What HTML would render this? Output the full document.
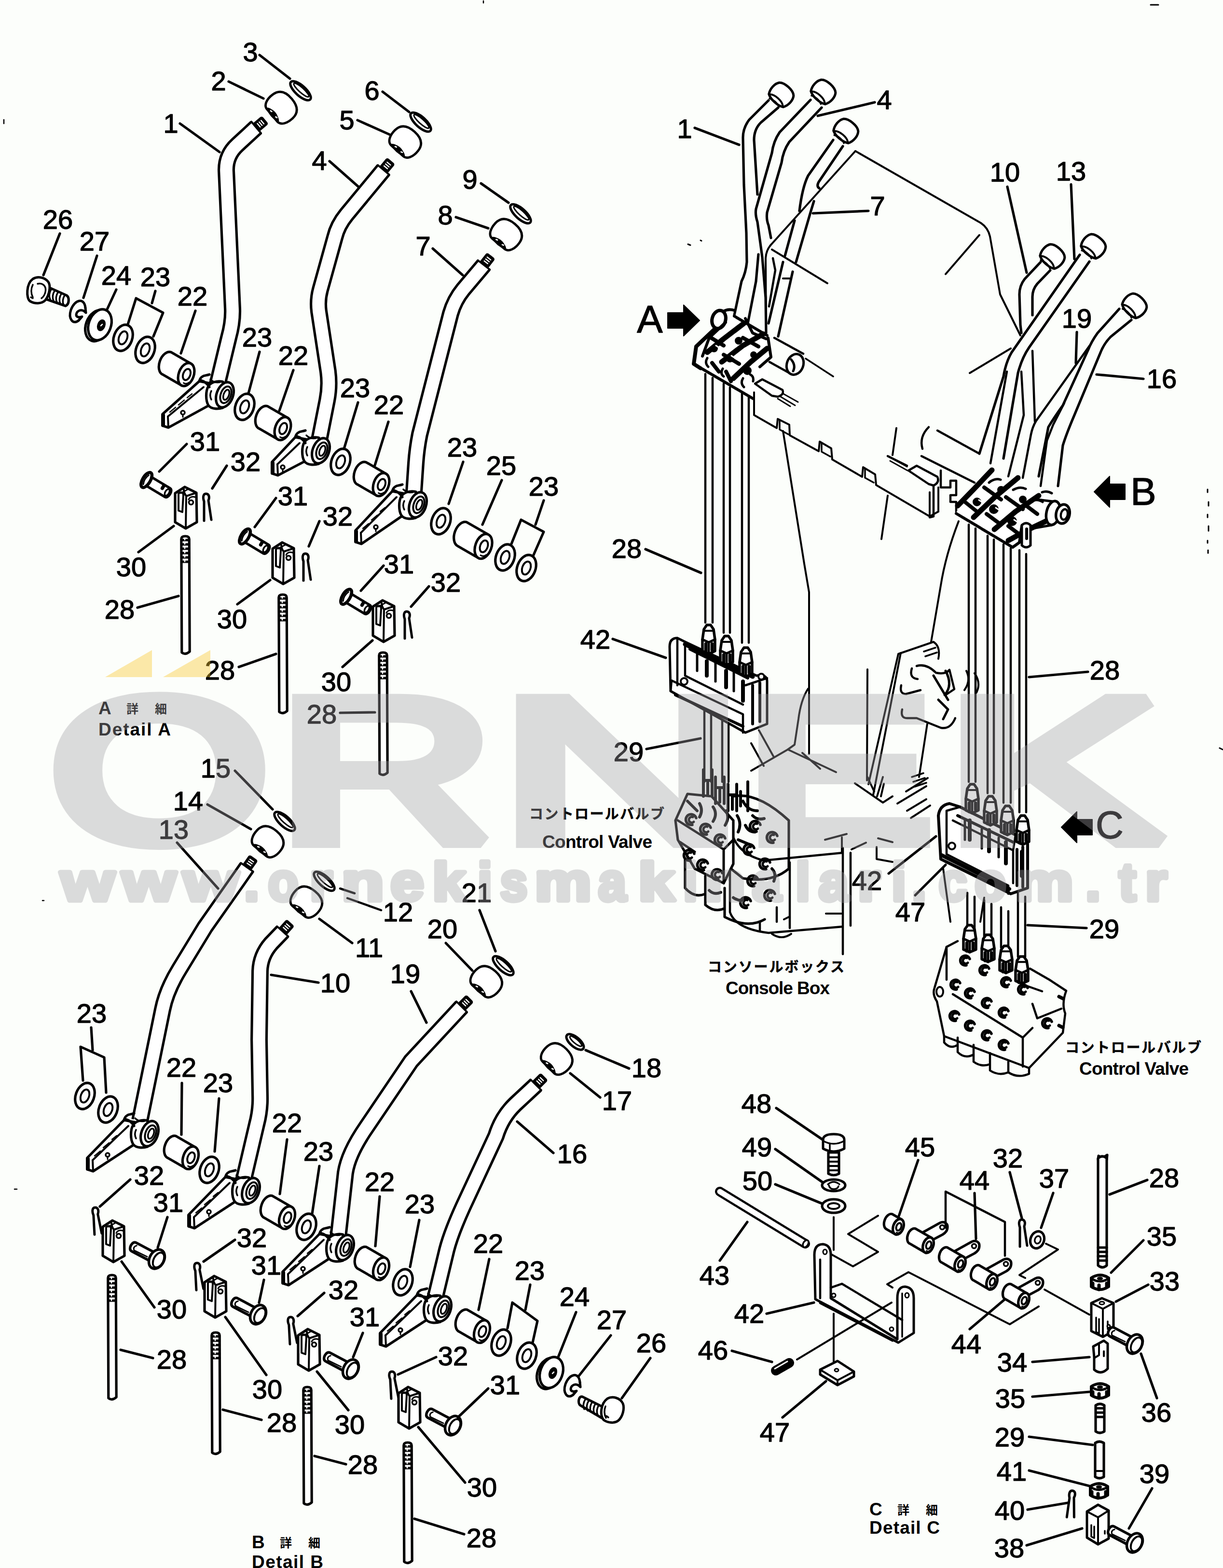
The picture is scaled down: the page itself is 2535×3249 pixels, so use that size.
<!DOCTYPE html>
<html><head><meta charset="utf-8"><title>ÖRNEK - www.ornekismakinalari.com.tr - Control Valve / Console Box levers</title>
<style>html,body{margin:0;padding:0;background:#fcfefb}svg{display:block}</style></head>
<body>
<svg width="2535" height="3249" viewBox="0 0 2535 3249">
<rect width="2535" height="3249" fill="#fcfefb"/>
<g fill="none" stroke="#000" stroke-width="5.2" stroke-linecap="round" stroke-linejoin="round">
<path d="M531 264L492 300Q468 322 469 354L482 640Q483 668 474 700L449 804" stroke-width="36" stroke-linecap="butt"/>
<path d="M531 264L492 300Q468 322 469 354L482 640Q483 668 474 700L449 804" stroke="#fff" stroke-width="25.6" stroke-linecap="butt"/>
<g transform="translate(531 264) rotate(-40)"><rect x="0" y="-9.5" width="23" height="19" rx="3" fill="#000" stroke-width="3"/><path d="M0 -15.5V15.5" stroke-width="4"/><path d="M7 -4.5V4.5M12 -4.5V4.5M17 -4.5V4.5" stroke="#fff" stroke-width="2.5"/></g>
<g transform="translate(583 223) rotate(-40) scale(0.92)"><path d="M-27 -18C-27 -30 -12 -36 4 -35C22 -34 31 -22 31 0C31 22 22 34 4 35C-12 36 -27 30 -27 18Z" fill="#fff"/><path d="M-27 -20C-17 -16 -17 16 -27 20" stroke-width="3.5"/><path d="M-26 -15C-16 -10 -16 10 -26 15C-30 6 -30 -6 -26 -15Z" fill="#000" stroke-width="3"/><path d="M-23 -10l1 3M-23 8l1 3" stroke="#fff" stroke-width="3"/></g>
<ellipse cx="623" cy="188" rx="27" ry="10.5" transform="rotate(42 623 188)" fill="#fff" stroke-width="5"/>
<ellipse cx="624.5" cy="186.5" rx="20.5" ry="5" transform="rotate(42 624.5 186.5)" stroke-width="3"/>
<path d="M538 114L601 163"/>
<path d="M474 169L546 204"/>
<path d="M373 256L455 315"/>
<path d="M795 352L718 445Q700 467 694 492L664 600Q658 622 661 645L680 770Q684 800 678 830L661 916" stroke-width="36" stroke-linecap="butt"/>
<path d="M795 352L718 445Q700 467 694 492L664 600Q658 622 661 645L680 770Q684 800 678 830L661 916" stroke="#fff" stroke-width="25.6" stroke-linecap="butt"/>
<g transform="translate(795 352) rotate(-50)"><rect x="0" y="-9.5" width="23" height="19" rx="3" fill="#000" stroke-width="3"/><path d="M0 -15.5V15.5" stroke-width="4"/><path d="M7 -4.5V4.5M12 -4.5V4.5M17 -4.5V4.5" stroke="#fff" stroke-width="2.5"/></g>
<g transform="translate(840 294) rotate(-48) scale(0.92)"><path d="M-27 -18C-27 -30 -12 -36 4 -35C22 -34 31 -22 31 0C31 22 22 34 4 35C-12 36 -27 30 -27 18Z" fill="#fff"/><path d="M-27 -20C-17 -16 -17 16 -27 20" stroke-width="3.5"/><path d="M-26 -15C-16 -10 -16 10 -26 15C-30 6 -30 -6 -26 -15Z" fill="#000" stroke-width="3"/><path d="M-23 -10l1 3M-23 8l1 3" stroke="#fff" stroke-width="3"/></g>
<ellipse cx="872" cy="253" rx="27" ry="10.5" transform="rotate(42 872 253)" fill="#fff" stroke-width="5"/>
<ellipse cx="873.5" cy="251.5" rx="20.5" ry="5" transform="rotate(42 873.5 251.5)" stroke-width="3"/>
<path d="M793 190L848 232"/>
<path d="M741 249L808 279"/>
<path d="M683 334L743 387"/>
<path d="M1003 549L960 600Q942 622 934 650L870 900Q864 930 862 960L857 1034" stroke-width="36" stroke-linecap="butt"/>
<path d="M1003 549L960 600Q942 622 934 650L870 900Q864 930 862 960L857 1034" stroke="#fff" stroke-width="25.6" stroke-linecap="butt"/>
<g transform="translate(1003 549) rotate(-52)"><rect x="0" y="-9.5" width="23" height="19" rx="3" fill="#000" stroke-width="3"/><path d="M0 -15.5V15.5" stroke-width="4"/><path d="M7 -4.5V4.5M12 -4.5V4.5M17 -4.5V4.5" stroke="#fff" stroke-width="2.5"/></g>
<g transform="translate(1049 486) rotate(-50) scale(0.92)"><path d="M-27 -18C-27 -30 -12 -36 4 -35C22 -34 31 -22 31 0C31 22 22 34 4 35C-12 36 -27 30 -27 18Z" fill="#fff"/><path d="M-27 -20C-17 -16 -17 16 -27 20" stroke-width="3.5"/><path d="M-26 -15C-16 -10 -16 10 -26 15C-30 6 -30 -6 -26 -15Z" fill="#000" stroke-width="3"/><path d="M-23 -10l1 3M-23 8l1 3" stroke="#fff" stroke-width="3"/></g>
<ellipse cx="1079" cy="443" rx="27" ry="10.5" transform="rotate(42 1079 443)" fill="#fff" stroke-width="5"/>
<ellipse cx="1080.5" cy="441.5" rx="20.5" ry="5" transform="rotate(42 1080.5 441.5)" stroke-width="3"/>
<path d="M997 380L1054 420"/>
<path d="M945 450L1012 473"/>
<path d="M897 515L959 570"/>
<g transform="translate(80 602)"><path d="M18 -8L58 10C64 14 64 28 56 32L10 16Z" fill="#fff"/><path d="M26 -2c-4 6 -5 14 -2 20M33 1c-4 6 -5 14 -2 20M40 4c-4 6 -5 14 -2 20M47 7c-4 6 -5 14 -2 20M54 10c-4 6 -5 14 -2 20" stroke-width="3.5"/><path d="M-12 -24C-2 -30 12 -28 20 -18C26 -10 22 10 14 20C6 28 -8 28 -18 22C-26 16 -26 -14 -12 -24Z" fill="#fff" stroke-width="5"/><path d="M-2 -14c8 -2 14 2 16 8c2 8 -2 18 -8 22M-12 -12c-4 8 -4 18 0 26M-16 14l4 2" stroke-width="3.5"/></g>
<path d="M177 638C175 616 155 620 147 642C141 660 151 674 163 664" stroke-width="5"/>
<path d="M177 638L178 648C169 638 159 644 158 652C158 658 165 658 170 656L163 664" stroke-width="5"/>
<ellipse cx="201" cy="675" rx="23" ry="33" transform="rotate(20 201 675)" fill="#fff"/>
<ellipse cx="207" cy="673" rx="23" ry="33" transform="rotate(20 207 673)" fill="#fff"/>
<ellipse cx="210" cy="674" rx="7" ry="11" transform="rotate(20 210 674)" fill="#000" stroke-width="3"/>
<path d="M209 675l3 -3" stroke-width="2.5" stroke="#fff"/>
<ellipse cx="255" cy="700" rx="19" ry="28" transform="rotate(20 255 700)" fill="#fff"/>
<ellipse cx="255" cy="700" rx="8.5" ry="14" transform="rotate(20 255 700)" fill="#fff" stroke-width="4"/>
<ellipse cx="301" cy="725" rx="19" ry="28" transform="rotate(20 301 725)" fill="#fff"/>
<ellipse cx="301" cy="725" rx="8.5" ry="14" transform="rotate(20 301 725)" fill="#fff" stroke-width="4"/>
<path d="M394.5 752.7L354.7 729.7A15.6 24.8 20 0 0 337.7 776.3L377.5 799.3" fill="#fff"/>
<ellipse cx="386" cy="776" rx="15.6" ry="24.8" transform="rotate(20 386 776)" fill="#fff"/>
<ellipse cx="387" cy="776" rx="7.4" ry="12" transform="rotate(20 387 776)" fill="#fff" stroke-width="4"/>
<path d="M380.5 793.5q5.5 3.7 11 -0.9" stroke-width="3"/>
<path d="M124 484L90 570"/>
<path d="M201 530L173 617"/>
<path d="M241 600L222 641"/>
<path d="M322 603L315 628"/>
<path d="M265 672L282 618L338 648L318 697"/>
<path d="M405 644L375 732"/>
<g transform="translate(466 818)"><path d="M-53 -28L-129 40V64L-117 68L-22 16L-10 -20Z" fill="#fff"/><path d="M-118 45L-44 -16" stroke-width="4"/><path d="M-118 45L-117 68" stroke-width="4"/><path d="M-128 42V63" stroke-width="8"/><path d="M-114 36l12 -10M-96 21.0l12 -10M-78 6.0l10 -8" stroke-width="2.5"/><circle cx="-87" cy="37" r="4" stroke-width="3.5"/><path d="M-87 41v5" stroke-width="3"/><path d="M-4 -27C-16 -30 -28 -26 -34 -18C-40 -8 -40 12 -34 22C-28 30 -14 30 -4 27Z" fill="#fff"/><path d="M-28 -8c-3 6 -3 12 0 18" stroke-width="3.5"/><path d="M-32 -42C-38 -40 -44 -40 -46 -38C-50 -36 -52 -32 -53 -28" fill="none"/><path d="M-30 -32c6 6 14 8 22 5" stroke-width="3.5"/><path d="M-50 -30c8 2 14 8 18 14" stroke-width="5"/></g>
<ellipse cx="466" cy="818" rx="17" ry="27" transform="rotate(20 466 818)" fill="#fff"/>
<ellipse cx="468" cy="818" rx="10.5" ry="18" transform="rotate(20 468 818)" fill="#fff" stroke-width="4"/>
<ellipse cx="469" cy="818" rx="5.5" ry="11" transform="rotate(20 469 818)" fill="#fff" stroke-width="3.5"/>
<ellipse cx="507" cy="843" rx="19" ry="28" transform="rotate(20 507 843)" fill="#fff"/>
<ellipse cx="507" cy="843" rx="8.5" ry="14" transform="rotate(20 507 843)" fill="#fff" stroke-width="4"/>
<path d="M594.5 864.7L554.7 841.7A15.6 24.8 20 0 0 537.7 888.3L577.5 911.3" fill="#fff"/>
<ellipse cx="586" cy="888" rx="15.6" ry="24.8" transform="rotate(20 586 888)" fill="#fff"/>
<ellipse cx="587" cy="888" rx="7.4" ry="12" transform="rotate(20 587 888)" fill="#fff" stroke-width="4"/>
<path d="M580.5 905.5q5.5 3.7 11 -0.9" stroke-width="3"/>
<path d="M538 729L515 815"/>
<path d="M608 767L579 851"/>
<g transform="translate(665 934)"><path d="M-53 -28L-101 23V47L-89 51L-22 16L-10 -20Z" fill="#fff"/><path d="M-90 28L-44 -16" stroke-width="4"/><path d="M-90 28L-89 51" stroke-width="4"/><path d="M-100 25V46" stroke-width="8"/><circle cx="-79" cy="34" r="4" stroke-width="3.5"/><path d="M-79 38v5" stroke-width="3"/><path d="M-4 -27C-16 -30 -28 -26 -34 -18C-40 -8 -40 12 -34 22C-28 30 -14 30 -4 27Z" fill="#fff"/><path d="M-28 -8c-3 6 -3 12 0 18" stroke-width="3.5"/><path d="M-32 -42C-38 -40 -44 -40 -46 -38C-50 -36 -52 -32 -53 -28" fill="none"/><path d="M-30 -32c6 6 14 8 22 5" stroke-width="3.5"/><path d="M-50 -30c8 2 14 8 18 14" stroke-width="5"/></g>
<ellipse cx="665" cy="934" rx="17" ry="27" transform="rotate(20 665 934)" fill="#fff"/>
<ellipse cx="667" cy="934" rx="10.5" ry="18" transform="rotate(20 667 934)" fill="#fff" stroke-width="4"/>
<ellipse cx="668" cy="934" rx="5.5" ry="11" transform="rotate(20 668 934)" fill="#fff" stroke-width="3.5"/>
<ellipse cx="706" cy="957" rx="19" ry="28" transform="rotate(20 706 957)" fill="#fff"/>
<ellipse cx="706" cy="957" rx="8.5" ry="14" transform="rotate(20 706 957)" fill="#fff" stroke-width="4"/>
<path d="M798.5 980.7L758.7 957.7A15.6 24.8 20 0 0 741.7 1004.3L781.5 1027.3" fill="#fff"/>
<ellipse cx="790" cy="1004" rx="15.6" ry="24.8" transform="rotate(20 790 1004)" fill="#fff"/>
<ellipse cx="791" cy="1004" rx="7.4" ry="12" transform="rotate(20 791 1004)" fill="#fff" stroke-width="4"/>
<path d="M784.5 1021.5q5.5 3.7 11 -0.9" stroke-width="3"/>
<path d="M742 834L713 930"/>
<path d="M805 874L777 964"/>
<g transform="translate(866 1046)"><path d="M-53 -28L-129 53V77L-117 81L-22 16L-10 -20Z" fill="#fff"/><path d="M-118 58L-44 -16" stroke-width="4"/><path d="M-118 58L-117 81" stroke-width="4"/><path d="M-128 55V76" stroke-width="8"/><path d="M-114 49l12 -10M-96 31.4l12 -10M-78 13.8l10 -8" stroke-width="2.5"/><circle cx="-87" cy="46.1" r="4" stroke-width="3.5"/><path d="M-87 50.1v5" stroke-width="3"/><path d="M-4 -27C-16 -30 -28 -26 -34 -18C-40 -8 -40 12 -34 22C-28 30 -14 30 -4 27Z" fill="#fff"/><path d="M-28 -8c-3 6 -3 12 0 18" stroke-width="3.5"/><path d="M-32 -42C-38 -40 -44 -40 -46 -38C-50 -36 -52 -32 -53 -28" fill="none"/><path d="M-30 -32c6 6 14 8 22 5" stroke-width="3.5"/><path d="M-50 -30c8 2 14 8 18 14" stroke-width="5"/></g>
<ellipse cx="866" cy="1046" rx="17" ry="27" transform="rotate(20 866 1046)" fill="#fff"/>
<ellipse cx="868" cy="1046" rx="10.5" ry="18" transform="rotate(20 868 1046)" fill="#fff" stroke-width="4"/>
<ellipse cx="869" cy="1046" rx="5.5" ry="11" transform="rotate(20 869 1046)" fill="#fff" stroke-width="3.5"/>
<ellipse cx="914" cy="1080" rx="19" ry="28" transform="rotate(20 914 1080)" fill="#fff"/>
<ellipse cx="914" cy="1080" rx="8.5" ry="14" transform="rotate(20 914 1080)" fill="#fff" stroke-width="4"/>
<path d="M1011 1107.1L966.9 1081.7A16.7 26.5 20 0 0 948.8 1131.4L993 1156.9" fill="#fff"/>
<ellipse cx="1002" cy="1132" rx="16.7" ry="26.5" transform="rotate(20 1002 1132)" fill="#fff"/>
<ellipse cx="1003" cy="1132" rx="7.8" ry="12.7" transform="rotate(20 1003 1132)" fill="#fff" stroke-width="4"/>
<path d="M996.1 1150.6q5.9 3.9 11.8 -1" stroke-width="3"/>
<ellipse cx="1047" cy="1155" rx="19" ry="28" transform="rotate(20 1047 1155)" fill="#fff"/>
<ellipse cx="1047" cy="1155" rx="8.5" ry="14" transform="rotate(20 1047 1155)" fill="#fff" stroke-width="4"/>
<ellipse cx="1091" cy="1177" rx="19" ry="28" transform="rotate(20 1091 1177)" fill="#fff"/>
<ellipse cx="1091" cy="1177" rx="8.5" ry="14" transform="rotate(20 1091 1177)" fill="#fff" stroke-width="4"/>
<path d="M960 957L930 1044"/>
<path d="M1040 995L1000 1087"/>
<path d="M1127 1037L1110 1087"/>
<path d="M1060 1127L1080 1077L1127 1102L1105 1152"/>
<g transform="translate(301 993) rotate(31)"><path d="M2 -10.5H54C62 -10.5 62 10.5 54 10.5H2Z" fill="#fff"/><ellipse cx="3" cy="0" rx="8" ry="17.5" fill="#fff" stroke-width="6.5"/><path d="M2 -11C-1 -4 -1 4 2 11" stroke-width="3"/><ellipse cx="53" cy="0" rx="4" ry="7.5" stroke-width="3.5"/><path d="M40 -9V-2" stroke-width="7"/></g>
<g transform="translate(385 1052)"><path d="M-22 -30L-2 -43L22 -31L23 30L0 43L-22 30Z" fill="#fff"/><path d="M1 -24L0 43M1 -24L22 -31M1 -24C-2 -28 -4 -33 -4 -38" stroke-width="4"/><path d="M-15 -29V6L-7 9L-5 -26C-5 -32 -10 -34 -15 -29Z" stroke-width="4"/><path d="M-10 -30L4 -38" stroke-width="3"/><circle cx="11" cy="-11" r="4.5" stroke-width="3.5"/><path d="M6 -17c2 -5 8 -7 13 -5" stroke-width="3"/></g>
<g transform="translate(429 1023) rotate(0)"><path d="M-6 56L-6 16C-9 8 -8 0 -2 0C4 0 6 7 3 14L9 54" stroke-width="5"/></g>
<path d="M375.8 1117Q375.8 1111 384 1111Q392.2 1111 392.2 1117L393.2 1350Q384 1358 376.8 1352Z" fill="#fff"/>
<path d="M377.8 1119h12.5M377.8 1128h12.5M377.8 1137h12.5M377.8 1146h12.5M377.8 1155h12.5M377.8 1164h12.5" stroke-width="5"/>
<path d="M383 1116V1167" stroke-width="2.5" stroke="#fff" stroke-dasharray="2.5 6.5"/>
<g transform="translate(505 1110) rotate(31)"><path d="M2 -10.5H54C62 -10.5 62 10.5 54 10.5H2Z" fill="#fff"/><ellipse cx="3" cy="0" rx="8" ry="17.5" fill="#fff" stroke-width="6.5"/><path d="M2 -11C-1 -4 -1 4 2 11" stroke-width="3"/><ellipse cx="53" cy="0" rx="4" ry="7.5" stroke-width="3.5"/><path d="M40 -9V-2" stroke-width="7"/></g>
<g transform="translate(587 1167)"><path d="M-22 -30L-2 -43L22 -31L23 30L0 43L-22 30Z" fill="#fff"/><path d="M1 -24L0 43M1 -24L22 -31M1 -24C-2 -28 -4 -33 -4 -38" stroke-width="4"/><path d="M-15 -29V6L-7 9L-5 -26C-5 -32 -10 -34 -15 -29Z" stroke-width="4"/><path d="M-10 -30L4 -38" stroke-width="3"/><circle cx="11" cy="-11" r="4.5" stroke-width="3.5"/><path d="M6 -17c2 -5 8 -7 13 -5" stroke-width="3"/></g>
<g transform="translate(635 1147) rotate(0)"><path d="M-6 56L-6 16C-9 8 -8 0 -2 0C4 0 6 7 3 14L9 54" stroke-width="5"/></g>
<path d="M577.8 1238Q577.8 1232 586 1232Q594.2 1232 594.2 1238L595.2 1473Q586 1481 578.8 1475Z" fill="#fff"/>
<path d="M579.8 1240h12.5M579.8 1249h12.5M579.8 1258h12.5M579.8 1267h12.5M579.8 1276h12.5M579.8 1285h12.5" stroke-width="5"/>
<path d="M585 1237V1288" stroke-width="2.5" stroke="#fff" stroke-dasharray="2.5 6.5"/>
<g transform="translate(715 1235) rotate(31)"><path d="M2 -10.5H54C62 -10.5 62 10.5 54 10.5H2Z" fill="#fff"/><ellipse cx="3" cy="0" rx="8" ry="17.5" fill="#fff" stroke-width="6.5"/><path d="M2 -11C-1 -4 -1 4 2 11" stroke-width="3"/><ellipse cx="53" cy="0" rx="4" ry="7.5" stroke-width="3.5"/><path d="M40 -9V-2" stroke-width="7"/></g>
<g transform="translate(795 1287)"><path d="M-22 -30L-2 -43L22 -31L23 30L0 43L-22 30Z" fill="#fff"/><path d="M1 -24L0 43M1 -24L22 -31M1 -24C-2 -28 -4 -33 -4 -38" stroke-width="4"/><path d="M-15 -29V6L-7 9L-5 -26C-5 -32 -10 -34 -15 -29Z" stroke-width="4"/><path d="M-10 -30L4 -38" stroke-width="3"/><circle cx="11" cy="-11" r="4.5" stroke-width="3.5"/><path d="M6 -17c2 -5 8 -7 13 -5" stroke-width="3"/></g>
<g transform="translate(845 1267) rotate(0)"><path d="M-6 56L-6 16C-9 8 -8 0 -2 0C4 0 6 7 3 14L9 54" stroke-width="5"/></g>
<path d="M785.8 1358Q785.8 1352 794 1352Q802.2 1352 802.2 1358L803.2 1601Q794 1609 786.8 1603Z" fill="#fff"/>
<path d="M787.8 1360h12.5M787.8 1369h12.5M787.8 1378h12.5M787.8 1387h12.5M787.8 1396h12.5M787.8 1405h12.5" stroke-width="5"/>
<path d="M793 1357V1408" stroke-width="2.5" stroke="#fff" stroke-dasharray="2.5 6.5"/>
<path d="M387 920L330 977"/>
<path d="M470 965L440 1012"/>
<path d="M287 1144L360 1090"/>
<path d="M285 1259L370 1235"/>
<path d="M572 1032L528 1092"/>
<path d="M662 1080L640 1132"/>
<path d="M492 1252L560 1202"/>
<path d="M495 1382L572 1355"/>
<path d="M795 1172L748 1224"/>
<path d="M889 1215L852 1257"/>
<path d="M710 1382L772 1327"/>
<path d="M705 1477L777 1476"/>
<path d="M512 1797L425 1921L372 2008Q345 2052 337 2092L290 2322" stroke-width="36" stroke-linecap="butt"/>
<path d="M512 1797L425 1921L372 2008Q345 2052 337 2092L290 2322" stroke="#fff" stroke-width="25.6" stroke-linecap="butt"/>
<g transform="translate(512 1797) rotate(-55)"><rect x="0" y="-9.5" width="23" height="19" rx="3" fill="#000" stroke-width="3"/><path d="M0 -15.5V15.5" stroke-width="4"/><path d="M7 -4.5V4.5M12 -4.5V4.5M17 -4.5V4.5" stroke="#fff" stroke-width="2.5"/></g>
<g transform="translate(555 1744) rotate(-50) scale(0.92)"><path d="M-27 -18C-27 -30 -12 -36 4 -35C22 -34 31 -22 31 0C31 22 22 34 4 35C-12 36 -27 30 -27 18Z" fill="#fff"/><path d="M-27 -20C-17 -16 -17 16 -27 20" stroke-width="3.5"/><path d="M-26 -15C-16 -10 -16 10 -26 15C-30 6 -30 -6 -26 -15Z" fill="#000" stroke-width="3"/><path d="M-23 -10l1 3M-23 8l1 3" stroke="#fff" stroke-width="3"/></g>
<ellipse cx="590" cy="1702" rx="27" ry="10.5" transform="rotate(42 590 1702)" fill="#fff" stroke-width="5"/>
<ellipse cx="591.5" cy="1700.5" rx="20.5" ry="5" transform="rotate(42 591.5 1700.5)" stroke-width="3"/>
<path d="M487 1597L565 1677"/>
<path d="M430 1667L520 1718"/>
<path d="M367 1746L452 1841"/>
<path d="M586 1930L562 1955Q540 1980 539 2012L537 2154L539 2270Q540 2300 532 2330L502 2458" stroke-width="36" stroke-linecap="butt"/>
<path d="M586 1930L562 1955Q540 1980 539 2012L537 2154L539 2270Q540 2300 532 2330L502 2458" stroke="#fff" stroke-width="25.6" stroke-linecap="butt"/>
<g transform="translate(586 1930) rotate(-48)"><rect x="0" y="-9.5" width="23" height="19" rx="3" fill="#000" stroke-width="3"/><path d="M0 -15.5V15.5" stroke-width="4"/><path d="M7 -4.5V4.5M12 -4.5V4.5M17 -4.5V4.5" stroke="#fff" stroke-width="2.5"/></g>
<g transform="translate(635 1869) rotate(-50) scale(0.92)"><path d="M-27 -18C-27 -30 -12 -36 4 -35C22 -34 31 -22 31 0C31 22 22 34 4 35C-12 36 -27 30 -27 18Z" fill="#fff"/><path d="M-27 -20C-17 -16 -17 16 -27 20" stroke-width="3.5"/><path d="M-26 -15C-16 -10 -16 10 -26 15C-30 6 -30 -6 -26 -15Z" fill="#000" stroke-width="3"/><path d="M-23 -10l1 3M-23 8l1 3" stroke="#fff" stroke-width="3"/></g>
<ellipse cx="672" cy="1826" rx="27" ry="10.5" transform="rotate(42 672 1826)" fill="#fff" stroke-width="5"/>
<ellipse cx="673.5" cy="1824.5" rx="20.5" ry="5" transform="rotate(42 673.5 1824.5)" stroke-width="3"/>
<path d="M705 1841L735 1851M720 1861L790 1886" stroke-width="4.5"/>
<path d="M662 1904L730 1954"/>
<path d="M562 2020L660 2036"/>
<path d="M957 2086L852 2199L760 2335Q722 2390 716 2430L700 2572" stroke-width="36" stroke-linecap="butt"/>
<path d="M957 2086L852 2199L760 2335Q722 2390 716 2430L700 2572" stroke="#fff" stroke-width="25.6" stroke-linecap="butt"/>
<g transform="translate(957 2086) rotate(-45)"><rect x="0" y="-9.5" width="23" height="19" rx="3" fill="#000" stroke-width="3"/><path d="M0 -15.5V15.5" stroke-width="4"/><path d="M7 -4.5V4.5M12 -4.5V4.5M17 -4.5V4.5" stroke="#fff" stroke-width="2.5"/></g>
<g transform="translate(1008 2034) rotate(-48) scale(0.92)"><path d="M-27 -18C-27 -30 -12 -36 4 -35C22 -34 31 -22 31 0C31 22 22 34 4 35C-12 36 -27 30 -27 18Z" fill="#fff"/><path d="M-27 -20C-17 -16 -17 16 -27 20" stroke-width="3.5"/><path d="M-26 -15C-16 -10 -16 10 -26 15C-30 6 -30 -6 -26 -15Z" fill="#000" stroke-width="3"/><path d="M-23 -10l1 3M-23 8l1 3" stroke="#fff" stroke-width="3"/></g>
<ellipse cx="1043" cy="2001" rx="27" ry="10.5" transform="rotate(42 1043 2001)" fill="#fff" stroke-width="5"/>
<ellipse cx="1044.5" cy="1999.5" rx="20.5" ry="5" transform="rotate(42 1044.5 1999.5)" stroke-width="3"/>
<path d="M994 1886L1027 1971"/>
<path d="M924 1954L979 2011"/>
<path d="M852 2054L884 2119"/>
<path d="M1111 2248L1068 2288Q1040 2315 1028 2354L960 2500Q935 2555 926 2590L900 2698" stroke-width="36" stroke-linecap="butt"/>
<path d="M1111 2248L1068 2288Q1040 2315 1028 2354L960 2500Q935 2555 926 2590L900 2698" stroke="#fff" stroke-width="25.6" stroke-linecap="butt"/>
<g transform="translate(1111 2248) rotate(-45)"><rect x="0" y="-9.5" width="23" height="19" rx="3" fill="#000" stroke-width="3"/><path d="M0 -15.5V15.5" stroke-width="4"/><path d="M7 -4.5V4.5M12 -4.5V4.5M17 -4.5V4.5" stroke="#fff" stroke-width="2.5"/></g>
<g transform="translate(1154 2194) rotate(-45) scale(0.92)"><path d="M-27 -18C-27 -30 -12 -36 4 -35C22 -34 31 -22 31 0C31 22 22 34 4 35C-12 36 -27 30 -27 18Z" fill="#fff"/><path d="M-27 -20C-17 -16 -17 16 -27 20" stroke-width="3.5"/><path d="M-26 -15C-16 -10 -16 10 -26 15C-30 6 -30 -6 -26 -15Z" fill="#000" stroke-width="3"/><path d="M-23 -10l1 3M-23 8l1 3" stroke="#fff" stroke-width="3"/></g>
<ellipse cx="1192" cy="2159" rx="22" ry="10" transform="rotate(40 1192 2159)" fill="#fff" stroke-width="5"/>
<ellipse cx="1193.5" cy="2157.5" rx="15.5" ry="4.5" transform="rotate(40 1193.5 2157.5)" stroke-width="3"/>
<path d="M1214 2176L1304 2214"/>
<path d="M1182 2224L1244 2274"/>
<path d="M1072 2324L1147 2389"/>
<path d="M189 2129L192 2176"/>
<path d="M172 2239L167 2169L216 2191L220 2264"/>
<ellipse cx="176" cy="2271" rx="19" ry="28" transform="rotate(20 176 2271)" fill="#fff"/>
<ellipse cx="176" cy="2271" rx="8.5" ry="14" transform="rotate(20 176 2271)" fill="#fff" stroke-width="4"/>
<ellipse cx="224" cy="2299" rx="19" ry="28" transform="rotate(20 224 2299)" fill="#fff"/>
<ellipse cx="224" cy="2299" rx="8.5" ry="14" transform="rotate(20 224 2299)" fill="#fff" stroke-width="4"/>
<g transform="translate(310 2349)"><path d="M-53 -28L-129 50V74L-117 78L-22 16L-10 -20Z" fill="#fff"/><path d="M-118 55L-44 -16" stroke-width="4"/><path d="M-118 55L-117 78" stroke-width="4"/><path d="M-128 52V73" stroke-width="8"/><path d="M-114 46l12 -10M-96 29.0l12 -10M-78 12.0l10 -8" stroke-width="2.5"/><circle cx="-87" cy="44" r="4" stroke-width="3.5"/><path d="M-87 48v5" stroke-width="3"/><path d="M-4 -27C-16 -30 -28 -26 -34 -18C-40 -8 -40 12 -34 22C-28 30 -14 30 -4 27Z" fill="#fff"/><path d="M-28 -8c-3 6 -3 12 0 18" stroke-width="3.5"/><path d="M-32 -42C-38 -40 -44 -40 -46 -38C-50 -36 -52 -32 -53 -28" fill="none"/><path d="M-30 -32c6 6 14 8 22 5" stroke-width="3.5"/><path d="M-50 -30c8 2 14 8 18 14" stroke-width="5"/></g>
<ellipse cx="310" cy="2349" rx="17" ry="27" transform="rotate(20 310 2349)" fill="#fff"/>
<ellipse cx="312" cy="2349" rx="10.5" ry="18" transform="rotate(20 312 2349)" fill="#fff" stroke-width="4"/>
<ellipse cx="313" cy="2349" rx="5.5" ry="11" transform="rotate(20 313 2349)" fill="#fff" stroke-width="3.5"/>
<path d="M403.3 2376.2L364.3 2353.7A15.3 24.3 20 0 0 347.7 2399.3L386.7 2421.8" fill="#fff"/>
<ellipse cx="395" cy="2399" rx="15.3" ry="24.3" transform="rotate(20 395 2399)" fill="#fff"/>
<ellipse cx="396" cy="2399" rx="7.2" ry="11.7" transform="rotate(20 396 2399)" fill="#fff" stroke-width="4"/>
<path d="M389.6 2416.1q5.4 3.6 10.8 -0.9" stroke-width="3"/>
<path d="M377 2244L376 2351"/>
<ellipse cx="434" cy="2424" rx="19" ry="28" transform="rotate(20 434 2424)" fill="#fff"/>
<ellipse cx="434" cy="2424" rx="8.5" ry="14" transform="rotate(20 434 2424)" fill="#fff" stroke-width="4"/>
<path d="M454 2276L445 2386"/>
<g transform="translate(520 2467)"><path d="M-53 -28L-129 50V74L-117 78L-22 16L-10 -20Z" fill="#fff"/><path d="M-118 55L-44 -16" stroke-width="4"/><path d="M-118 55L-117 78" stroke-width="4"/><path d="M-128 52V73" stroke-width="8"/><path d="M-114 46l12 -10M-96 29.0l12 -10M-78 12.0l10 -8" stroke-width="2.5"/><circle cx="-87" cy="44" r="4" stroke-width="3.5"/><path d="M-87 48v5" stroke-width="3"/><path d="M-4 -27C-16 -30 -28 -26 -34 -18C-40 -8 -40 12 -34 22C-28 30 -14 30 -4 27Z" fill="#fff"/><path d="M-28 -8c-3 6 -3 12 0 18" stroke-width="3.5"/><path d="M-32 -42C-38 -40 -44 -40 -46 -38C-50 -36 -52 -32 -53 -28" fill="none"/><path d="M-30 -32c6 6 14 8 22 5" stroke-width="3.5"/><path d="M-50 -30c8 2 14 8 18 14" stroke-width="5"/></g>
<ellipse cx="520" cy="2467" rx="17" ry="27" transform="rotate(20 520 2467)" fill="#fff"/>
<ellipse cx="522" cy="2467" rx="10.5" ry="18" transform="rotate(20 522 2467)" fill="#fff" stroke-width="4"/>
<ellipse cx="523" cy="2467" rx="5.5" ry="11" transform="rotate(20 523 2467)" fill="#fff" stroke-width="3.5"/>
<path d="M603.3 2500.2L564.3 2477.7A15.3 24.3 20 0 0 547.7 2523.3L586.7 2545.8" fill="#fff"/>
<ellipse cx="595" cy="2523" rx="15.3" ry="24.3" transform="rotate(20 595 2523)" fill="#fff"/>
<ellipse cx="596" cy="2523" rx="7.2" ry="11.7" transform="rotate(20 596 2523)" fill="#fff" stroke-width="4"/>
<path d="M589.6 2540.1q5.4 3.6 10.8 -0.9" stroke-width="3"/>
<path d="M595 2361L580 2474"/>
<ellipse cx="635" cy="2542" rx="19" ry="28" transform="rotate(20 635 2542)" fill="#fff"/>
<ellipse cx="635" cy="2542" rx="8.5" ry="14" transform="rotate(20 635 2542)" fill="#fff" stroke-width="4"/>
<path d="M662 2416L647 2515"/>
<g transform="translate(715 2585)"><path d="M-53 -28L-129 50V74L-117 78L-22 16L-10 -20Z" fill="#fff"/><path d="M-118 55L-44 -16" stroke-width="4"/><path d="M-118 55L-117 78" stroke-width="4"/><path d="M-128 52V73" stroke-width="8"/><path d="M-114 46l12 -10M-96 29.0l12 -10M-78 12.0l10 -8" stroke-width="2.5"/><circle cx="-87" cy="44" r="4" stroke-width="3.5"/><path d="M-87 48v5" stroke-width="3"/><path d="M-4 -27C-16 -30 -28 -26 -34 -18C-40 -8 -40 12 -34 22C-28 30 -14 30 -4 27Z" fill="#fff"/><path d="M-28 -8c-3 6 -3 12 0 18" stroke-width="3.5"/><path d="M-32 -42C-38 -40 -44 -40 -46 -38C-50 -36 -52 -32 -53 -28" fill="none"/><path d="M-30 -32c6 6 14 8 22 5" stroke-width="3.5"/><path d="M-50 -30c8 2 14 8 18 14" stroke-width="5"/></g>
<ellipse cx="715" cy="2585" rx="17" ry="27" transform="rotate(20 715 2585)" fill="#fff"/>
<ellipse cx="717" cy="2585" rx="10.5" ry="18" transform="rotate(20 717 2585)" fill="#fff" stroke-width="4"/>
<ellipse cx="718" cy="2585" rx="5.5" ry="11" transform="rotate(20 718 2585)" fill="#fff" stroke-width="3.5"/>
<path d="M798.3 2606.2L759.3 2583.7A15.3 24.3 20 0 0 742.7 2629.3L781.7 2651.8" fill="#fff"/>
<ellipse cx="790" cy="2629" rx="15.3" ry="24.3" transform="rotate(20 790 2629)" fill="#fff"/>
<ellipse cx="791" cy="2629" rx="7.2" ry="11.7" transform="rotate(20 791 2629)" fill="#fff" stroke-width="4"/>
<path d="M784.6 2646.1q5.4 3.6 10.8 -0.9" stroke-width="3"/>
<path d="M787 2479L778 2582"/>
<ellipse cx="835" cy="2657" rx="19" ry="28" transform="rotate(20 835 2657)" fill="#fff"/>
<ellipse cx="835" cy="2657" rx="8.5" ry="14" transform="rotate(20 835 2657)" fill="#fff" stroke-width="4"/>
<path d="M869 2528L850 2625"/>
<g transform="translate(917 2712)"><path d="M-53 -28L-129 50V74L-117 78L-22 16L-10 -20Z" fill="#fff"/><path d="M-118 55L-44 -16" stroke-width="4"/><path d="M-118 55L-117 78" stroke-width="4"/><path d="M-128 52V73" stroke-width="8"/><path d="M-114 46l12 -10M-96 29.0l12 -10M-78 12.0l10 -8" stroke-width="2.5"/><circle cx="-87" cy="44" r="4" stroke-width="3.5"/><path d="M-87 48v5" stroke-width="3"/><path d="M-4 -27C-16 -30 -28 -26 -34 -18C-40 -8 -40 12 -34 22C-28 30 -14 30 -4 27Z" fill="#fff"/><path d="M-28 -8c-3 6 -3 12 0 18" stroke-width="3.5"/><path d="M-32 -42C-38 -40 -44 -40 -46 -38C-50 -36 -52 -32 -53 -28" fill="none"/><path d="M-30 -32c6 6 14 8 22 5" stroke-width="3.5"/><path d="M-50 -30c8 2 14 8 18 14" stroke-width="5"/></g>
<ellipse cx="917" cy="2712" rx="17" ry="27" transform="rotate(20 917 2712)" fill="#fff"/>
<ellipse cx="919" cy="2712" rx="10.5" ry="18" transform="rotate(20 919 2712)" fill="#fff" stroke-width="4"/>
<ellipse cx="920" cy="2712" rx="5.5" ry="11" transform="rotate(20 920 2712)" fill="#fff" stroke-width="3.5"/>
<path d="M1007.3 2736.2L968.3 2713.7A15.3 24.3 20 0 0 951.7 2759.3L990.7 2781.8" fill="#fff"/>
<ellipse cx="999" cy="2759" rx="15.3" ry="24.3" transform="rotate(20 999 2759)" fill="#fff"/>
<ellipse cx="1000" cy="2759" rx="7.2" ry="11.7" transform="rotate(20 1000 2759)" fill="#fff" stroke-width="4"/>
<path d="M993.6 2776.1q5.4 3.6 10.8 -0.9" stroke-width="3"/>
<path d="M1014 2609L992 2714"/>
<ellipse cx="1039" cy="2782" rx="19" ry="28" transform="rotate(20 1039 2782)" fill="#fff"/>
<ellipse cx="1039" cy="2782" rx="8.5" ry="14" transform="rotate(20 1039 2782)" fill="#fff" stroke-width="4"/>
<ellipse cx="1092" cy="2809" rx="19" ry="28" transform="rotate(20 1092 2809)" fill="#fff"/>
<ellipse cx="1092" cy="2809" rx="8.5" ry="14" transform="rotate(20 1092 2809)" fill="#fff" stroke-width="4"/>
<path d="M1099 2662L1089 2714"/>
<path d="M1052 2752L1062 2699L1114 2737L1104 2782"/>
<ellipse cx="1137" cy="2846" rx="23" ry="33" transform="rotate(20 1137 2846)" fill="#fff"/>
<ellipse cx="1143" cy="2844" rx="23" ry="33" transform="rotate(20 1143 2844)" fill="#fff"/>
<ellipse cx="1146" cy="2845" rx="7" ry="11" transform="rotate(20 1146 2845)" fill="#000" stroke-width="3"/>
<path d="M1145 2846l3 -3" stroke-width="2.5" stroke="#fff"/>
<path d="M1194 2719L1157 2812"/>
<path d="M1202 2864C1200 2842 1180 2846 1172 2868C1166 2886 1176 2900 1188 2890" stroke-width="5"/>
<path d="M1202 2864L1203 2874C1194 2864 1184 2870 1183 2878C1183 2884 1190 2884 1195 2882L1188 2890" stroke-width="5"/>
<path d="M1266 2767L1199 2852"/>
<g transform="translate(1269 2922)"><path d="M-18 -6L-62 -28C-70 -30 -72 -14 -66 -10L-22 16Z" fill="#fff"/><path d="M-28 -10c-4 6 -5 14 -2 20M-35 -13c-4 6 -5 14 -2 20M-42 -16c-4 6 -5 14 -2 20M-49 -19c-4 6 -5 14 -2 20M-56 -22c-4 6 -5 14 -2 20" stroke-width="3.5"/><path d="M-10 -24C0 -30 16 -26 22 -14C26 -4 22 14 12 22C4 28 -10 26 -18 20C-26 10 -24 -14 -10 -24Z" fill="#fff" stroke-width="5"/><path d="M-14 -8c-3 8 -3 16 1 24M-12 12l4 3" stroke-width="3.5"/></g>
<path d="M1348 2814L1289 2897"/>
<g transform="translate(199 2502) rotate(-3)"><path d="M-6 56L-6 16C-9 8 -8 0 -2 0C4 0 6 7 3 14L9 54" stroke-width="5"/></g>
<g transform="translate(235 2572)"><path d="M-22 -30L-2 -43L22 -31L23 30L0 43L-22 30Z" fill="#fff"/><path d="M1 -24L0 43M1 -24L22 -31M1 -24C-2 -28 -4 -33 -4 -38" stroke-width="4"/><path d="M-15 -29V6L-7 9L-5 -26C-5 -32 -10 -34 -15 -29Z" stroke-width="4"/><path d="M-10 -30L4 -38" stroke-width="3"/><circle cx="11" cy="-11" r="4.5" stroke-width="3.5"/><path d="M6 -17c2 -5 8 -7 13 -5" stroke-width="3"/></g>
<g transform="translate(325 2609) rotate(28)"><path d="M0 -10H-54C-63 -10 -63 10 -54 10H0Z" fill="#fff" stroke-width="5.5"/><path d="M-50 -5C-54 -2 -54 3 -50 6L-20 5" stroke-width="3"/><ellipse cx="0" cy="0" rx="15" ry="21" fill="#fff" stroke-width="5.5"/><ellipse cx="4" cy="0" rx="10" ry="16.5" fill="#fff" stroke-width="4"/></g>
<path d="M223.8 2648Q223.8 2642 232 2642Q240.2 2642 240.2 2648L241.2 2895Q232 2903 224.8 2897Z" fill="#fff"/>
<path d="M225.8 2650h12.5M225.8 2659h12.5M225.8 2668h12.5M225.8 2677h12.5M225.8 2686h12.5M225.8 2695h12.5" stroke-width="5"/>
<path d="M231 2647V2698" stroke-width="2.5" stroke="#fff" stroke-dasharray="2.5 6.5"/>
<g transform="translate(410 2617) rotate(-3)"><path d="M-6 56L-6 16C-9 8 -8 0 -2 0C4 0 6 7 3 14L9 54" stroke-width="5"/></g>
<g transform="translate(446 2687)"><path d="M-22 -30L-2 -43L22 -31L23 30L0 43L-22 30Z" fill="#fff"/><path d="M1 -24L0 43M1 -24L22 -31M1 -24C-2 -28 -4 -33 -4 -38" stroke-width="4"/><path d="M-15 -29V6L-7 9L-5 -26C-5 -32 -10 -34 -15 -29Z" stroke-width="4"/><path d="M-10 -30L4 -38" stroke-width="3"/><circle cx="11" cy="-11" r="4.5" stroke-width="3.5"/><path d="M6 -17c2 -5 8 -7 13 -5" stroke-width="3"/></g>
<g transform="translate(535 2724) rotate(28)"><path d="M0 -10H-54C-63 -10 -63 10 -54 10H0Z" fill="#fff" stroke-width="5.5"/><path d="M-50 -5C-54 -2 -54 3 -50 6L-20 5" stroke-width="3"/><ellipse cx="0" cy="0" rx="15" ry="21" fill="#fff" stroke-width="5.5"/><ellipse cx="4" cy="0" rx="10" ry="16.5" fill="#fff" stroke-width="4"/></g>
<path d="M438.8 2767Q438.8 2761 447 2761Q455.2 2761 455.2 2767L456.2 3008Q447 3016 439.8 3010Z" fill="#fff"/>
<path d="M440.8 2769h12.5M440.8 2778h12.5M440.8 2787h12.5M440.8 2796h12.5M440.8 2805h12.5M440.8 2814h12.5" stroke-width="5"/>
<path d="M446 2766V2817" stroke-width="2.5" stroke="#fff" stroke-dasharray="2.5 6.5"/>
<g transform="translate(604 2729) rotate(-3)"><path d="M-6 56L-6 16C-9 8 -8 0 -2 0C4 0 6 7 3 14L9 54" stroke-width="5"/></g>
<g transform="translate(640 2797)"><path d="M-22 -30L-2 -43L22 -31L23 30L0 43L-22 30Z" fill="#fff"/><path d="M1 -24L0 43M1 -24L22 -31M1 -24C-2 -28 -4 -33 -4 -38" stroke-width="4"/><path d="M-15 -29V6L-7 9L-5 -26C-5 -32 -10 -34 -15 -29Z" stroke-width="4"/><path d="M-10 -30L4 -38" stroke-width="3"/><circle cx="11" cy="-11" r="4.5" stroke-width="3.5"/><path d="M6 -17c2 -5 8 -7 13 -5" stroke-width="3"/></g>
<g transform="translate(727 2837) rotate(28)"><path d="M0 -10H-54C-63 -10 -63 10 -54 10H0Z" fill="#fff" stroke-width="5.5"/><path d="M-50 -5C-54 -2 -54 3 -50 6L-20 5" stroke-width="3"/><ellipse cx="0" cy="0" rx="15" ry="21" fill="#fff" stroke-width="5.5"/><ellipse cx="4" cy="0" rx="10" ry="16.5" fill="#fff" stroke-width="4"/></g>
<path d="M628.8 2880Q628.8 2874 637 2874Q645.2 2874 645.2 2880L646.2 3113Q637 3121 629.8 3115Z" fill="#fff"/>
<path d="M630.8 2882h12.5M630.8 2891h12.5M630.8 2900h12.5M630.8 2909h12.5M630.8 2918h12.5M630.8 2927h12.5" stroke-width="5"/>
<path d="M636 2879V2930" stroke-width="2.5" stroke="#fff" stroke-dasharray="2.5 6.5"/>
<g transform="translate(814 2842) rotate(-3)"><path d="M-6 56L-6 16C-9 8 -8 0 -2 0C4 0 6 7 3 14L9 54" stroke-width="5"/></g>
<g transform="translate(848 2917)"><path d="M-22 -30L-2 -43L22 -31L23 30L0 43L-22 30Z" fill="#fff"/><path d="M1 -24L0 43M1 -24L22 -31M1 -24C-2 -28 -4 -33 -4 -38" stroke-width="4"/><path d="M-15 -29V6L-7 9L-5 -26C-5 -32 -10 -34 -15 -29Z" stroke-width="4"/><path d="M-10 -30L4 -38" stroke-width="3"/><circle cx="11" cy="-11" r="4.5" stroke-width="3.5"/><path d="M6 -17c2 -5 8 -7 13 -5" stroke-width="3"/></g>
<g transform="translate(939 2954) rotate(28)"><path d="M0 -10H-54C-63 -10 -63 10 -54 10H0Z" fill="#fff" stroke-width="5.5"/><path d="M-50 -5C-54 -2 -54 3 -50 6L-20 5" stroke-width="3"/><ellipse cx="0" cy="0" rx="15" ry="21" fill="#fff" stroke-width="5.5"/><ellipse cx="4" cy="0" rx="10" ry="16.5" fill="#fff" stroke-width="4"/></g>
<path d="M836.8 2995Q836.8 2989 845 2989Q853.2 2989 853.2 2995L854.2 3234Q845 3242 837.8 3236Z" fill="#fff"/>
<path d="M838.8 2997h12.5M838.8 3006h12.5M838.8 3015h12.5M838.8 3024h12.5M838.8 3033h12.5M838.8 3042h12.5" stroke-width="5"/>
<path d="M844 2994V3045" stroke-width="2.5" stroke="#fff" stroke-dasharray="2.5 6.5"/>
<path d="M270 2444L207 2500"/>
<path d="M347 2522L327 2585"/>
<path d="M252 2614L320 2709"/>
<path d="M250 2797L317 2814"/>
<path d="M487 2569L422 2614"/>
<path d="M547 2652L537 2699"/>
<path d="M467 2729L552 2849"/>
<path d="M462 2921L542 2942"/>
<path d="M672 2679L617 2727"/>
<path d="M752 2762L732 2812"/>
<path d="M657 2842L722 2922"/>
<path d="M652 3017L717 3034"/>
<path d="M904 2812L825 2848"/>
<path d="M1012 2877L949 2937"/>
<path d="M964 3072L867 2957"/>
<path d="M962 3179L859 3147"/>
<path d="M1717 2388V2432Q1728 2438 1739 2432V2388Z" fill="#fff"/>
<path d="M1718 2398h20M1718 2407h20M1718 2416h20M1718 2425h20" stroke-width="4"/>
<path d="M1706 2362Q1706 2350 1728 2350Q1750 2350 1750 2362V2380Q1728 2392 1706 2380Z" fill="#fff" stroke-width="5"/>
<path d="M1706 2364Q1728 2376 1750 2364M1720 2370V2385" stroke-width="3.5"/>
<ellipse cx="1728" cy="2456" rx="24" ry="12" fill="#fff"/>
<path d="M1716 2454q12 -10 24 0M1718 2456q2 8 10 8q8 0 10 -6" stroke-width="3.5"/>
<ellipse cx="1728" cy="2499" rx="24" ry="14" fill="#fff"/>
<ellipse cx="1728" cy="2499" rx="12" ry="6" fill="#fff" stroke-width="4"/>
<path d="M1609 2296L1706 2362"/>
<path d="M1607 2381L1704 2449"/>
<path d="M1607 2454L1704 2494"/>
<path d="M1728 2522L1728 2590" stroke-width="4"/>
<path d="M1728 2722L1728 2822" stroke-width="4"/>
<path d="M1492 2469L1669 2577" stroke-width="20"/><path d="M1492 2469L1669 2577" stroke="#fff" stroke-width="11"/>
<ellipse cx="1670" cy="2577" rx="5" ry="8" transform="rotate(30 1670 2577)" fill="#fff" stroke-width="3.5"/>
<path d="M1549 2532L1492 2612"/>
<path d="M1688 2600Q1688 2578 1706 2578Q1722 2580 1722 2600V2690L1860 2775V2690Q1860 2666 1876 2666Q1894 2668 1894 2690V2762L1862 2782L1690 2692Z" fill="#fff" stroke-width="5"/>
<path d="M1722 2668L1745 2660L1870 2735M1700 2610V2690M1700 2700L1850 2778" stroke-width="4.5"/>
<path d="M1870 2680V2770M1722 2600v80" stroke-width="3.5"/>
<ellipse cx="1710" cy="2594" rx="4" ry="5" fill="#fff" stroke-width="3"/>
<ellipse cx="1880" cy="2684" rx="4" ry="5" fill="#fff" stroke-width="3"/>
<ellipse cx="1728" cy="2684" rx="4" ry="4" fill="#fff" stroke-width="3"/>
<ellipse cx="1848" cy="2754" rx="4" ry="4" fill="#fff" stroke-width="3"/>
<path d="M1589 2722L1687 2699"/>
<path d="M1608 2840L1636 2824" stroke-width="20" stroke-linecap="round"/><path d="M1606 2836l26 -15" stroke="#fff" stroke-width="3"/>
<path d="M1517 2799L1600 2822"/>
<path d="M1652 2817L1848 2699" stroke-width="4"/>
<path d="M1700 2838L1736 2820L1770 2842V2852L1736 2870L1700 2848Z" fill="#fff" stroke-width="5"/>
<path d="M1700 2838L1736 2860L1770 2842M1736 2860V2870" stroke-width="4"/>
<ellipse cx="1734" cy="2839" rx="4" ry="3" fill="#fff" stroke-width="3"/>
<path d="M1622 2937L1712 2862"/>
<path d="M1820 2519L1758 2557L1820 2594L1768 2624L1723 2599" stroke-width="4"/>
<path d="M2168 2577L2193 2589L2113 2642L2125 2648" stroke-width="4"/>
<path d="M2153 2707L2093 2744L1883 2636L1839 2661L1850 2668" stroke-width="4"/>
<path d="M2165 2672L2258 2724" stroke-width="4"/>
<path d="M1867.7 2526.3L1849.5 2515.7A10.5 16.7 20 0 0 1838 2547.2L1856.3 2557.7" fill="#fff"/>
<ellipse cx="1862" cy="2542" rx="10.5" ry="16.7" transform="rotate(20 1862 2542)" fill="#fff"/>
<ellipse cx="1863" cy="2542" rx="5" ry="8.1" transform="rotate(20 1863 2542)" fill="#fff" stroke-width="4"/>
<path d="M1858.3 2553.8q3.7 2.5 7.4 -0.6" stroke-width="3"/>
<path d="M1903 2404L1863 2520"/>
<g transform="translate(1908 2568)"><path d="M4 -14L40 -34C48 -38 56 -34 56 -26C56 -18 52 -14 46 -10L12 8Z" fill="#fff"/><circle cx="45" cy="-25" r="4.5" stroke-width="3.5"/></g>
<path d="M1929.7 2564.3L1897.5 2545.7A10.5 16.7 20 0 0 1886.1 2577.1L1918.3 2595.7" fill="#fff"/>
<ellipse cx="1924" cy="2580" rx="10.5" ry="16.7" transform="rotate(20 1924 2580)" fill="#fff"/>
<ellipse cx="1925" cy="2580" rx="5" ry="8.1" transform="rotate(20 1925 2580)" fill="#fff" stroke-width="4"/>
<path d="M1920.3 2591.8q3.7 2.5 7.4 -0.6" stroke-width="3"/>
<g transform="translate(1974 2607)"><path d="M4 -14L40 -34C48 -38 56 -34 56 -26C56 -18 52 -14 46 -10L12 8Z" fill="#fff"/><circle cx="45" cy="-25" r="4.5" stroke-width="3.5"/></g>
<path d="M1995.7 2603.3L1963.5 2584.7A10.5 16.7 20 0 0 1952.1 2616.1L1984.3 2634.7" fill="#fff"/>
<ellipse cx="1990" cy="2619" rx="10.5" ry="16.7" transform="rotate(20 1990 2619)" fill="#fff"/>
<ellipse cx="1991" cy="2619" rx="5" ry="8.1" transform="rotate(20 1991 2619)" fill="#fff" stroke-width="4"/>
<path d="M1986.3 2630.8q3.7 2.5 7.4 -0.6" stroke-width="3"/>
<g transform="translate(2040 2644)"><path d="M4 -14L40 -34C48 -38 56 -34 56 -26C56 -18 52 -14 46 -10L12 8Z" fill="#fff"/><circle cx="45" cy="-25" r="4.5" stroke-width="3.5"/></g>
<path d="M2061.7 2640.3L2029.5 2621.7A10.5 16.7 20 0 0 2018.1 2653.1L2050.3 2671.7" fill="#fff"/>
<ellipse cx="2056" cy="2656" rx="10.5" ry="16.7" transform="rotate(20 2056 2656)" fill="#fff"/>
<ellipse cx="2057" cy="2656" rx="5" ry="8.1" transform="rotate(20 2057 2656)" fill="#fff" stroke-width="4"/>
<path d="M2052.3 2667.8q3.7 2.5 7.4 -0.6" stroke-width="3"/>
<g transform="translate(2106 2683)"><path d="M4 -14L40 -34C48 -38 56 -34 56 -26C56 -18 52 -14 46 -10L12 8Z" fill="#fff"/><circle cx="45" cy="-25" r="4.5" stroke-width="3.5"/></g>
<path d="M2127.7 2679.3L2095.5 2660.7A10.5 16.7 20 0 0 2084.1 2692.1L2116.3 2710.7" fill="#fff"/>
<ellipse cx="2122" cy="2695" rx="10.5" ry="16.7" transform="rotate(20 2122 2695)" fill="#fff"/>
<ellipse cx="2123" cy="2695" rx="5" ry="8.1" transform="rotate(20 2123 2695)" fill="#fff" stroke-width="4"/>
<path d="M2118.3 2706.8q3.7 2.5 7.4 -0.6" stroke-width="3"/>
<path d="M2020 2472L2023 2567"/>
<path d="M1960 2544L1960 2469L2083 2532L2083 2602" stroke-width="4.5"/>
<path d="M2010 2754L2083 2692"/>
<g transform="translate(2120 2527) rotate(0)"><path d="M-6 56L-6 16C-9 8 -8 0 -2 0C4 0 6 7 3 14L9 54" stroke-width="5"/></g>
<path d="M2093 2429L2118 2524"/>
<ellipse cx="2150" cy="2569" rx="14" ry="18" transform="rotate(20 2150 2569)" fill="#fff"/>
<ellipse cx="2151" cy="2569" rx="6" ry="8" transform="rotate(20 2151 2569)" fill="#fff" stroke-width="3.5"/>
<path d="M2183 2472L2158 2544"/>
<path d="M2276 2403Q2276 2397 2285 2397Q2294 2397 2294 2403L2295 2393Q2285 2401 2277 2395Z" fill="#fff"/>
<path d="M2276 2400V2622Q2285 2630 2294 2622V2400Q2285 2392 2276 2400Z" fill="#fff"/>
<path d="M2276 2585h18M2276 2594h18M2276 2603h18M2276 2612h18" stroke-width="5"/>
<path d="M2378 2445L2300 2475"/>
<path d="M2262 2648Q2280 2636 2298 2648V2666Q2280 2678 2262 2666Z" fill="#fff" stroke-width="6"/>
<path d="M2262 2649Q2280 2661 2298 2649" stroke-width="5"/>
<path d="M2265 2659V2667M2294 2659V2666M2278 2663v9" stroke-width="7"/>
<ellipse cx="2280" cy="2649" rx="5" ry="2.5" fill="#000" stroke-width="2"/>
<path d="M2370 2570L2303 2637"/>
<path d="M2262 2700L2284 2690L2308 2700V2758L2286 2770L2262 2758Z" fill="#fff" stroke-width="5"/>
<path d="M2262 2700L2286 2712L2308 2700M2286 2712V2770" stroke-width="4"/>
<path d="M2272 2730v30l6 3v-30M2296 2738v16" stroke-width="3.5"/>
<ellipse cx="2284" cy="2700" rx="5" ry="3" fill="#fff" stroke-width="3"/>
<ellipse cx="2298" cy="2748" rx="3" ry="3" fill="#fff" stroke-width="3"/>
<path d="M2380 2662L2313 2697"/>
<g transform="translate(2352 2785) rotate(28)"><path d="M0 -10H-54C-63 -10 -63 10 -54 10H0Z" fill="#fff" stroke-width="5.5"/><path d="M-50 -5C-54 -2 -54 3 -50 6L-20 5" stroke-width="3"/><ellipse cx="0" cy="0" rx="15" ry="21" fill="#fff" stroke-width="5.5"/><ellipse cx="4" cy="0" rx="10" ry="16.5" fill="#fff" stroke-width="4"/></g>
<path d="M2365 2805L2398 2897"/>
<path d="M2266 2790L2288 2778L2296 2784V2836Q2282 2850 2268 2838V2812Z" fill="#fff" stroke-width="5"/>
<path d="M2278 2786v22l-10 6M2288 2800v10" stroke-width="4"/>
<path d="M2140 2822L2258 2812"/>
<path d="M2262 2873Q2280 2861 2298 2873V2891Q2280 2903 2262 2891Z" fill="#fff" stroke-width="6"/>
<path d="M2262 2874Q2280 2886 2298 2874" stroke-width="5"/>
<path d="M2265 2884V2892M2294 2884V2891M2278 2888v9" stroke-width="7"/>
<ellipse cx="2280" cy="2874" rx="5" ry="2.5" fill="#000" stroke-width="2"/>
<path d="M2140 2894L2258 2884"/>
<path d="M2271 2912V2966Q2280 2972 2289 2966V2912Q2280 2906 2271 2912Z" fill="#fff"/>
<path d="M2273 2918h14M2273 2927h14M2273 2936h14" stroke-width="5"/>
<path d="M2270 2990V3060Q2279 3066 2288 3060V2990Q2279 2984 2270 2990Z" fill="#fff"/>
<path d="M2272 3048h14" stroke-width="4"/>
<path d="M2133 2977L2265 2994"/>
<path d="M2260 3080Q2278 3068 2296 3080V3098Q2278 3110 2260 3098Z" fill="#fff" stroke-width="6"/>
<path d="M2260 3081Q2278 3093 2296 3081" stroke-width="5"/>
<path d="M2263 3091V3099M2292 3091V3098M2276 3095v9" stroke-width="7"/>
<ellipse cx="2278" cy="3081" rx="5" ry="2.5" fill="#000" stroke-width="2"/>
<path d="M2133 3047L2258 3079"/>
<g transform="translate(2225 3089) rotate(8)"><path d="M-6 56L-6 16C-9 8 -8 0 -2 0C4 0 6 7 3 14L9 54" stroke-width="5"/></g>
<path d="M2130 3128L2213 3114"/>
<path d="M2253 3132L2276 3118L2298 3130V3188L2276 3200L2253 3186Z" fill="#fff" stroke-width="5"/>
<path d="M2253 3132L2276 3144L2298 3130M2276 3144V3200" stroke-width="4"/>
<path d="M2262 3160v24l6 3v-24M2290 3172v6" stroke-width="3.5"/>
<path d="M2128 3202L2243 3167"/>
<g transform="translate(2352 3197) rotate(28)"><path d="M0 -10H-54C-63 -10 -63 10 -54 10H0Z" fill="#fff" stroke-width="5.5"/><path d="M-50 -5C-54 -2 -54 3 -50 6L-20 5" stroke-width="3"/><ellipse cx="0" cy="0" rx="15" ry="21" fill="#fff" stroke-width="5.5"/><ellipse cx="4" cy="0" rx="10" ry="16.5" fill="#fff" stroke-width="4"/></g>
<path d="M2388 3084L2340 3167"/>
<path d="M1593 208L1553 248Q1540 265 1540 285L1542 383L1547 483L1548 543Q1546 565 1537 583L1522 653"/>
<path d="M1613 223L1577 254Q1563 268 1563 290L1570 403"/>
<path d="M1572 527L1567 583L1550 670"/>
<path d="M1680 207L1616 274Q1603 293 1600 317L1567 433Q1565 445 1570 460L1580 533L1587 617L1588 690"/>
<path d="M1703 223L1636 294Q1623 313 1620 337L1590 440Q1588 455 1593 467L1598 493"/>
<path d="M1727 290L1675 364Q1663 388 1657 437"/>
<path d="M1747 303L1697 377Q1692 386 1698 390"/>
<path d="M1647 457L1627 530M1687 417L1680 440L1650 543M1643 563L1613 697M1623 543L1593 670"/>
<path d="M1602 535L1607 560L1594 635" stroke-width="4.5"/>
<path d="M1623 577h14" stroke-width="4"/>
<g transform="translate(1618 198) rotate(-48)"><path d="M-14 -20C-4 -26 10 -26 18 -20C26 -12 26 12 18 20C10 26 -4 26 -14 20C-20 10 -20 -10 -14 -20Z" fill="#fff" stroke-width="5"/><path d="M-13 -18C-6 -10 -6 10 -13 18" stroke-width="4"/><path d="M-20 -13C-16 -6 -16 6 -20 13" stroke-width="3.5"/></g>
<g transform="translate(1705 192) rotate(-48)"><path d="M-14 -20C-4 -26 10 -26 18 -20C26 -12 26 12 18 20C10 26 -4 26 -14 20C-20 10 -20 -10 -14 -20Z" fill="#fff" stroke-width="5"/><path d="M-13 -18C-6 -10 -6 10 -13 18" stroke-width="4"/><path d="M-20 -13C-16 -6 -16 6 -20 13" stroke-width="3.5"/></g>
<g transform="translate(1752 273) rotate(-50)"><path d="M-14 -20C-4 -26 10 -26 18 -20C26 -12 26 12 18 20C10 26 -4 26 -14 20C-20 10 -20 -10 -14 -20Z" fill="#fff" stroke-width="5"/><path d="M-13 -18C-6 -10 -6 10 -13 18" stroke-width="4"/><path d="M-20 -13C-16 -6 -16 6 -20 13" stroke-width="3.5"/></g>
<path d="M1440 265L1532 300"/>
<path d="M1813 212L1695 240"/>
<path d="M1800 437L1685 442"/>
<path d="M1773 313L1600 505Q1588 517 1587 535L1588 697" stroke-width="4"/>
<path d="M1773 313L2033 462Q2048 472 2052 490L2073 610L2115 695" stroke-width="4"/>
<path d="M1600 517L1715 587" stroke-width="4"/>
<path d="M2030 487L1960 568M2095 722L2010 773" stroke-width="4"/>
<path d="M1623 893L1667 1168L1677 1227V1562" stroke-width="4"/>
<path d="M1858 887L1850 943M1840 1027L1827 1117" stroke-width="4"/>
<path d="M1384 648L1417 648L1417 632L1450 664L1417 696L1417 680L1384 680Z" fill="#000" stroke-width="2"/>
<path d="M2332 1003L2300 1003L2300 987L2268 1019L2300 1051L2300 1035L2332 1035Z" fill="#000" stroke-width="2"/>
<path d="M2264 1698L2232 1698L2232 1682L2200 1714L2232 1746L2232 1730L2264 1730Z" fill="#000" stroke-width="2"/>
<path d="M1440 722L1478 682L1522 655L1590 695L1592 790L1561 826L1438 756Z" fill="#fff" stroke-width="1" stroke="#fff"/>
<ellipse cx="1490" cy="662" rx="14" ry="19" transform="rotate(15 1490 662)" fill="#fff" stroke-width="7"/>
<path d="M1480 683L1443 718L1438 754L1452 763" stroke-width="8"/>
<path d="M1438 754L1561 826" stroke-width="6"/>
<path d="M1504 668L1470 700L1456 738M1522 655L1590 695M1500 645q10 -6 22 -2" stroke-width="6"/>
<path d="M1466 730L1500 702L1542 670M1496 750L1540 716L1582 692M1520 784L1556 750L1590 722" stroke-width="11"/>
<path d="M1474 700L1500 716M1500 735L1532 754M1540 700L1572 718M1476 752L1490 770M1505 770L1515 790" stroke-width="8"/>
<ellipse cx="1480" cy="722" rx="7" ry="7" fill="#000" stroke-width="2"/>
<ellipse cx="1513" cy="742" rx="8" ry="8" fill="#000" stroke-width="2"/>
<ellipse cx="1549" cy="768" rx="8" ry="8" fill="#000" stroke-width="2"/>
<ellipse cx="1531" cy="706" rx="7" ry="7" fill="#000" stroke-width="2"/>
<ellipse cx="1562" cy="735" rx="6" ry="6" fill="#000" stroke-width="2"/>
<path d="M1466 742q-6 10 2 18M1498 764q-6 10 2 16M1540 784q-6 10 2 18M1555 776q8 4 6 14" stroke-width="5"/>
<path d="M1545 660L1560 690L1588 702M1592 700L1598 740L1575 760" stroke-width="6"/>
<path d="M1484 716l6 4M1516 737l6 4" stroke-width="3" stroke="#fff"/>
<path d="M1605 700L1665 733M1595 750L1640 775" stroke-width="4.5"/>
<ellipse cx="1648" cy="755" rx="17" ry="22" transform="rotate(20 1648 755)" fill="#fff" stroke-width="5"/>
<path d="M1640 745q10 12 4 24" stroke-width="5"/>
<path d="M1670 743L1727 780" stroke-width="3.5"/>
<path d="M1565 795L1580 786L1622 808Q1626 818 1612 822L1600 820Z" fill="#fff" stroke-width="4.5"/>
<path d="M1622 815l32 18M1618 822l30 18M1612 826l26 16" stroke-width="3"/>
<path d="M1563 813V860L1610 887L1612 868L1636 880L1637 902L1697 935L1699 915L1723 929L1725 952L1787 988L1789 968L1814 983L1816 1005L1927 1070L1945 1060" stroke-width="4"/>
<path d="M1616 872v18l18 10M1703 918v18l18 10M1793 972v18l18 10" stroke-width="3.5"/>
<path d="M1927 1070V1020M1945 1060V1010" stroke-width="4"/>
<path d="M1462 775V1290M1477 783V1290" stroke-width="4.5"/>
<path d="M1500 795V1310.9M1513 803V1310.9" stroke-width="4.5"/>
<path d="M1538 815V1331.8M1552 823V1331.8" stroke-width="4.5"/>
<path d="M1338 1138L1453 1187"/>
<path d="M1388 1340Q1388 1322 1404 1322L1420 1330L1568 1400Q1590 1396 1590 1412V1500L1545 1518L1390 1432Z" fill="#fff" stroke-width="5"/>
<path d="M1404 1322V1420M1420 1330V1400L1540 1460M1390 1432L1392 1410L1540 1480V1518M1545 1420L1590 1405" stroke-width="4.5"/>
<path d="M1420 1335L1560 1402" stroke-width="9"/>
<ellipse cx="1418" cy="1412" rx="7" ry="7" fill="#fff" stroke-width="4"/>
<ellipse cx="1578" cy="1402" rx="6" ry="6" fill="#fff" stroke-width="4"/>
<path d="M1456 1325L1459 1304L1465 1295H1473L1479 1304L1482 1325V1349L1469 1355L1456 1349Z" fill="#fff" stroke-width="5.5"/>
<path d="M1456 1325L1469 1331L1482 1325M1469 1331V1355" stroke-width="5"/>
<path d="M1463 1334v18M1476 1334v13.2" stroke-width="6.5"/>
<path d="M1458 1307h22" stroke-width="4"/>
<path d="M1493 1348L1496 1327L1502 1318H1510L1516 1327L1519 1348V1372L1506 1378L1493 1372Z" fill="#fff" stroke-width="5.5"/>
<path d="M1493 1348L1506 1354L1519 1348M1506 1354V1378" stroke-width="5"/>
<path d="M1500 1357v18M1513 1357v13.2" stroke-width="6.5"/>
<path d="M1495 1330h22" stroke-width="4"/>
<path d="M1533 1372L1536 1351L1542 1342H1550L1556 1351L1559 1372V1396L1546 1402L1533 1396Z" fill="#fff" stroke-width="5.5"/>
<path d="M1533 1372L1546 1378L1559 1372M1546 1378V1402" stroke-width="5"/>
<path d="M1540 1381v18M1553 1381v13.2" stroke-width="6.5"/>
<path d="M1535 1354h22" stroke-width="4"/>
<path d="M1465 1370v30M1505 1390v34M1540 1412v40" stroke-width="8"/>
<path d="M1430 1345L1550 1405M1560 1420V1500M1575 1415V1495M1400 1440L1540 1505" stroke-width="6"/>
<path d="M1445 1350v40M1483 1372v40M1521 1392v40" stroke-width="5"/>
<path d="M1270 1324L1380 1363"/>
<path d="M1460 1470L1460 1620" stroke-width="4.5"/>
<path d="M1474 1478.4L1474 1620" stroke-width="4.5"/>
<path d="M1497 1492.2L1497 1620" stroke-width="4.5"/>
<path d="M1510 1500L1510 1620" stroke-width="4.5"/>
<path d="M1340 1552L1452 1530"/>
<path d="M1675 1427Q1660 1450 1655 1490L1647 1543L1633 1553" stroke-width="4"/>
<path d="M1633 1553L1557 1597M1633 1553L1733 1600M1663 1560L1700 1593M1573 1513L1603 1567M1557 1540L1583 1587" stroke-width="4"/>
<path d="M1798 1387L1797 1617M1867 1353L1810 1647M1772 1623L1830 1663L1850 1650M1812 1640l-14 -30M1826 1650l6 -26" stroke-width="4"/>
<path d="M1517 1727Q1530 1770 1583 1783L1747 1767M1513 1717V1890Q1525 1925 1593 1933L1747 1920M1637 1787V1923M1747 1757V1977M1763 1767V1918" stroke-width="4.5"/>
<path d="M1710 1740l45 -12M1745 1735V1765M1765 1760l30 -14M1712 1893h32M1625 1905l12 -6" stroke-width="4"/>
<path d="M1600 1935q20 14 40 0" stroke-width="4"/>
<path d="M1817 1755V1780L1850 1786M1850 1745l-30 -8" stroke-width="4"/>
<path d="M1400 1700L1425 1645L1475 1650L1520 1700L1520 1790L1500 1830L1440 1800L1405 1740Z" fill="#fff"/>
<path d="M1520 1650Q1570 1640 1635 1700V1800Q1600 1830 1540 1820L1515 1800"/>
<path d="M1420 1780V1840Q1440 1862 1462 1852V1815M1462 1852V1875Q1482 1892 1502 1882V1840M1502 1882V1900Q1550 1925 1585 1905"/>
<path d="M1405 1700L1500 1760L1520 1740M1500 1760V1830M1410 1745L1440 1765" stroke-width="5"/>
<path d="M1443 1695A11 11 0 1 0 1435 1709" stroke-width="5.5"/>
<path d="M1436 1693a6 6 0 1 0 2 10" stroke-width="5"/>
<path d="M1473 1715A11 11 0 1 0 1465 1729" stroke-width="5.5"/>
<path d="M1466 1713a6 6 0 1 0 2 10" stroke-width="5"/>
<path d="M1503 1737A11 11 0 1 0 1495 1751" stroke-width="5.5"/>
<path d="M1496 1735a6 6 0 1 0 2 10" stroke-width="5"/>
<path d="M1439 1769A11 11 0 1 0 1431 1783" stroke-width="5.5"/>
<path d="M1432 1767a6 6 0 1 0 2 10" stroke-width="5"/>
<path d="M1467 1789A11 11 0 1 0 1459 1803" stroke-width="5.5"/>
<path d="M1460 1787a6 6 0 1 0 2 10" stroke-width="5"/>
<path d="M1497 1809A11 11 0 1 0 1489 1823" stroke-width="5.5"/>
<path d="M1490 1807a6 6 0 1 0 2 10" stroke-width="5"/>
<path d="M1576 1709A11 11 0 1 0 1568 1723" stroke-width="5.5"/>
<path d="M1569 1707a6 6 0 1 0 2 10" stroke-width="5"/>
<path d="M1611 1732A11 11 0 1 0 1603 1746" stroke-width="5.5"/>
<path d="M1604 1730a6 6 0 1 0 2 10" stroke-width="5"/>
<path d="M1563 1757A11 11 0 1 0 1555 1771" stroke-width="5.5"/>
<path d="M1556 1755a6 6 0 1 0 2 10" stroke-width="5"/>
<path d="M1596 1787A11 11 0 1 0 1588 1801" stroke-width="5.5"/>
<path d="M1589 1785a6 6 0 1 0 2 10" stroke-width="5"/>
<path d="M1571 1822A11 11 0 1 0 1563 1836" stroke-width="5.5"/>
<path d="M1564 1820a6 6 0 1 0 2 10" stroke-width="5"/>
<path d="M1606 1852A11 11 0 1 0 1598 1866" stroke-width="5.5"/>
<path d="M1599 1850a6 6 0 1 0 2 10" stroke-width="5"/>
<path d="M1556 1867A11 11 0 1 0 1548 1881" stroke-width="5.5"/>
<path d="M1549 1865a6 6 0 1 0 2 10" stroke-width="5"/>
<path d="M1458 1595V1650M1476 1595V1650" stroke-width="6"/>
<path d="M1458 1617h18M1467 1617v30" stroke-width="6"/>
<path d="M1483 1610V1665M1501 1610V1665" stroke-width="6"/>
<path d="M1483 1632h18M1492 1632v30" stroke-width="6"/>
<path d="M1509 1625V1680M1527 1625V1680" stroke-width="6"/>
<path d="M1509 1647h18M1518 1647v30" stroke-width="6"/>
<path d="M1535 1640v30M1550 1620v60M1540 1660q10 20 30 20M1560 1690q10 10 24 6M1545 1710q6 14 20 14" stroke-width="6"/>
<path d="M1450 1665q8 14 0 28M1478 1672q10 14 0 30M1505 1680q8 14 -2 30M1528 1690q10 16 2 34M1425 1660l20 20M1530 1740l24 10M1470 1845q10 10 24 4M1520 1860q14 10 30 2M1600 1800q10 10 4 26" stroke-width="6"/>
<path d="M1610 1880v30M1575 1930v-18" stroke-width="4.5"/>
<path d="M2157 543L2124 578Q2113 592 2113 610L2115 673L2117 690"/>
<path d="M2177 560L2150 588Q2140 600 2140 615V653"/>
<path d="M2238 528L2097 730Q2085 750 2080 780L2030 940"/>
<path d="M2258 542L2133 720Q2118 742 2110 773L2080 950"/>
<path d="M2087 770L2053 960M2117 770L2122 860L2090 987" stroke-width="4.5"/>
<path d="M2258 717L2147 873Q2140 885 2137 900L2120 990" stroke-width="4.5"/>
<path d="M2320 640L2275 690Q2262 708 2255 726L2203 840Q2185 865 2173 885L2153 987"/>
<path d="M2345 663L2302 698Q2288 712 2280 733L2227 860Q2210 900 2203 923L2193 1007"/>
<path d="M2206 835L2183 880L2170 913L2157 1007" stroke-width="4.5"/>
<path d="M2140 727L2145 873" stroke-width="4.5"/>
<g transform="translate(2180 533) rotate(-48)"><path d="M-14 -20C-4 -26 10 -26 18 -20C26 -12 26 12 18 20C10 26 -4 26 -14 20C-20 10 -20 -10 -14 -20Z" fill="#fff" stroke-width="5"/><path d="M-13 -18C-6 -10 -6 10 -13 18" stroke-width="4"/><path d="M-20 -13C-16 -6 -16 6 -20 13" stroke-width="3.5"/></g>
<g transform="translate(2265 512) rotate(-50)"><path d="M-14 -20C-4 -26 10 -26 18 -20C26 -12 26 12 18 20C10 26 -4 26 -14 20C-20 10 -20 -10 -14 -20Z" fill="#fff" stroke-width="5"/><path d="M-13 -18C-6 -10 -6 10 -13 18" stroke-width="4"/><path d="M-20 -13C-16 -6 -16 6 -20 13" stroke-width="3.5"/></g>
<g transform="translate(2350 635) rotate(-45)"><path d="M-14 -20C-4 -26 10 -26 18 -20C26 -12 26 12 18 20C10 26 -4 26 -14 20C-20 10 -20 -10 -14 -20Z" fill="#fff" stroke-width="5"/><path d="M-13 -18C-6 -10 -6 10 -13 18" stroke-width="4"/><path d="M-20 -13C-16 -6 -16 6 -20 13" stroke-width="3.5"/></g>
<path d="M2088 387L2128 565"/>
<path d="M2220 382L2227 537"/>
<path d="M2232 688L2230 752"/>
<path d="M2370 785L2273 776"/>
<path d="M1987 1080Q1960 1150 1950 1213L1930 1330" stroke-width="4"/>
<path d="M1943 892L2030 940M1912 930Q1905 905 1925 885M1910 945L2020 1000M1840 945L1880 965" stroke-width="4.5"/>
<path d="M1883 975L1900 965L1943 988Q1948 1000 1935 1006L1925 1003Z" fill="#fff" stroke-width="4.5"/>
<path d="M1935 1006V1070L1927 1072M1950 975V1010h20v-14h12v30h-12v14h12v20" stroke-width="4.5"/>
<path d="M1840 945l40 22M1845 955l36 20" stroke-width="3"/>
<path d="M1982 1062L2040 985L2120 1005L2175 1035L2182 1085L2100 1136Z" fill="#fff" stroke-width="1" stroke="#fff"/>
<path d="M1982 1064L2099 1134L2113 1124L2118 1090" stroke-width="6"/>
<path d="M1985 1048L2020 1012L2056 974M2018 1072L2062 1030L2110 990M2061 1097L2105 1060L2153 1027M2090 1120L2130 1098L2172 1078" stroke-width="11"/>
<path d="M2000 1040L2025 1060M2040 1010L2075 1035M2045 1065L2072 1085M2085 1030L2120 1055M2090 1090L2110 1105M2130 1050L2150 1065" stroke-width="8"/>
<ellipse cx="2025" cy="1040" rx="8" ry="8" fill="#000" stroke-width="2"/>
<ellipse cx="2060" cy="1055" rx="9" ry="9" fill="#000" stroke-width="2"/>
<ellipse cx="2098" cy="1080" rx="9" ry="9" fill="#000" stroke-width="2"/>
<ellipse cx="2075" cy="1015" rx="7" ry="7" fill="#000" stroke-width="2"/>
<ellipse cx="2120" cy="1035" rx="7" ry="7" fill="#000" stroke-width="2"/>
<path d="M2050 1000q12 -10 24 -6M2100 1015q14 -8 26 -2M2135 1040q14 -8 26 0M2160 1020q10 -4 20 2" stroke-width="5"/>
<path d="M2029 1036l6 4M2064 1052l6 4M2102 1077l6 4" stroke-width="3" stroke="#fff"/>
<path d="M2118 1088q9 -8 18 0v42q-9 8 -18 0Z" fill="#fff" stroke-width="5"/>
<path d="M2128 1096v20" stroke-width="6"/>
<path d="M2150 1035L2190 1040M2140 1095L2180 1088" stroke-width="5"/>
<ellipse cx="2183" cy="1063" rx="14" ry="25" transform="rotate(12 2183 1063)" fill="#fff" stroke-width="5.5"/>
<ellipse cx="2203" cy="1065" rx="14" ry="20" transform="rotate(12 2203 1065)" fill="#fff" stroke-width="5.5"/>
<ellipse cx="2206" cy="1066" rx="7" ry="11" transform="rotate(12 2206 1066)" fill="#fff" stroke-width="4.5"/>
<path d="M2008 1087V1620M2022 1095V1620" stroke-width="4.5"/>
<path d="M2047 1110V1643.4M2060 1118V1643.4" stroke-width="4.5"/>
<path d="M2080 1128V1663.2M2095 1136V1663.2" stroke-width="4.5"/>
<path d="M2113 1140V1683M2127 1148V1683" stroke-width="4.5"/>
<path d="M2255 1392L2133 1403"/>
<path d="M1935 1330L1862 1355L1800 1625M1935 1330Q1950 1340 1945 1365" stroke-width="4"/>
<path d="M1915 1350l24 -8M1918 1360l24 -8M1890 1610l24 -8M1893 1620l24 -8M1896 1630l24 -8" stroke-width="3.5"/>
<path d="M1868 1420q-4 18 10 18l30 -8M1890 1385q-6 20 12 22M1900 1380q20 -6 40 14q20 4 28 -6l10 40l-18 12M1870 1470q-4 18 10 18h20l50 20q20 4 30 -20" stroke-width="4.5"/>
<path d="M1935 1400l30 50M1945 1450l20 20l-10 20M1960 1390q16 30 -2 50" stroke-width="5"/>
<path d="M1922 1500L1905 1610M1830 1610l-12 40" stroke-width="4"/>
<path d="M1878 1640l45 -28M1860 1665l60 -36M1880 1680l40 -24M1888 1695l40 -26" stroke-width="4"/>
<path d="M2003 1390q10 20 -4 40M2020 1395q14 20 4 40" stroke-width="4"/>
<path d="M1945 1690Q1948 1668 1968 1665L1990 1672L2105 1730Q2130 1730 2130 1750V1840L2095 1852L1950 1780Z" fill="#fff" stroke-width="6"/>
<path d="M1962 1680V1770L2090 1835V1852M1990 1672L1962 1680M1975 1700L2100 1762M2105 1730L2100 1762V1830" stroke-width="4.5"/>
<path d="M1952 1772L2092 1842" stroke-width="8"/>
<ellipse cx="1973" cy="1753" rx="7" ry="7" fill="#fff" stroke-width="4"/>
<path d="M2002 1655L2005 1634L2011 1625H2019L2025 1634L2028 1655V1679L2015 1685L2002 1679Z" fill="#fff" stroke-width="5.5"/>
<path d="M2002 1655L2015 1661L2028 1655M2015 1661V1685" stroke-width="5"/>
<path d="M2009 1664v18M2022 1664v13.2" stroke-width="6.5"/>
<path d="M2004 1637h22" stroke-width="4"/>
<path d="M2040 1680L2043 1659L2049 1650H2057L2063 1659L2066 1680V1704L2053 1710L2040 1704Z" fill="#fff" stroke-width="5.5"/>
<path d="M2040 1680L2053 1686L2066 1680M2053 1686V1710" stroke-width="5"/>
<path d="M2047 1689v18M2060 1689v13.2" stroke-width="6.5"/>
<path d="M2042 1662h22" stroke-width="4"/>
<path d="M2075 1700L2078 1679L2084 1670H2092L2098 1679L2101 1700V1724L2088 1730L2075 1724Z" fill="#fff" stroke-width="5.5"/>
<path d="M2075 1700L2088 1706L2101 1700M2088 1706V1730" stroke-width="5"/>
<path d="M2082 1709v18M2095 1709v13.2" stroke-width="6.5"/>
<path d="M2077 1682h22" stroke-width="4"/>
<path d="M2107 1720L2110 1699L2116 1690H2124L2130 1699L2133 1720V1744L2120 1750L2107 1744Z" fill="#fff" stroke-width="5.5"/>
<path d="M2107 1720L2120 1726L2133 1720M2120 1726V1750" stroke-width="5"/>
<path d="M2114 1729v18M2127 1729v13.2" stroke-width="6.5"/>
<path d="M2109 1702h22" stroke-width="4"/>
<path d="M2010 1700v40M2050 1720v44M2085 1745v44M2118 1765v50" stroke-width="8"/>
<path d="M1985 1690L2100 1745M2108 1760V1835M2120 1755V1838M1960 1785L2090 1848" stroke-width="6"/>
<path d="M2000 1700v40M2035 1718v40M2070 1736v40" stroke-width="5"/>
<path d="M1842 1810L1940 1733"/>
<path d="M1897 1855L1960 1792"/>
<path d="M1955 1800L1970 1910M2040 1860l-8 50" stroke-width="4"/>
<path d="M2005 1850V1925M2020 1858V1925" stroke-width="4.5"/>
<path d="M2040 1865V1944.2M2055 1873V1944.2" stroke-width="4.5"/>
<path d="M2075 1880V1963.5M2090 1888V1963.5" stroke-width="4.5"/>
<path d="M2110 1850V1982.8M2125 1858V1982.8" stroke-width="4.5"/>
<path d="M2252 1923L2130 1917"/>
<path d="M1997 1945L2000 1925.4L2006 1917H2014L2020 1925.4L2023 1945V1967.4L2010 1973L1997 1967.4Z" fill="#fff" stroke-width="5.5"/>
<path d="M1997 1945L2010 1951L2023 1945M2010 1951V1973" stroke-width="5"/>
<path d="M2004 1954v16.8M2017 1954v12.3" stroke-width="6.5"/>
<path d="M1999 1928.2h22" stroke-width="4"/>
<path d="M2035 1965L2038 1945.4L2044 1937H2052L2058 1945.4L2061 1965V1987.4L2048 1993L2035 1987.4Z" fill="#fff" stroke-width="5.5"/>
<path d="M2035 1965L2048 1971L2061 1965M2048 1971V1993" stroke-width="5"/>
<path d="M2042 1974v16.8M2055 1974v12.3" stroke-width="6.5"/>
<path d="M2037 1948.2h22" stroke-width="4"/>
<path d="M2072 1988L2075 1968.4L2081 1960H2089L2095 1968.4L2098 1988V2010.4L2085 2016L2072 2010.4Z" fill="#fff" stroke-width="5.5"/>
<path d="M2072 1988L2085 1994L2098 1988M2085 1994V2016" stroke-width="5"/>
<path d="M2079 1997v16.8M2092 1997v12.3" stroke-width="6.5"/>
<path d="M2074 1971.2h22" stroke-width="4"/>
<path d="M2105 2010L2108 1990.4L2114 1982H2122L2128 1990.4L2131 2010V2032.4L2118 2038L2105 2032.4Z" fill="#fff" stroke-width="5.5"/>
<path d="M2105 2010L2118 2016L2131 2010M2118 2016V2038" stroke-width="5"/>
<path d="M2112 2019v16.8M2125 2019v12.3" stroke-width="6.5"/>
<path d="M2107 1993.2h22" stroke-width="4"/>
<path d="M1962 1962L1985 1950M1962 1962L1937 2047Q1932 2060 1942 2075L1957 2147L2133 2213L2203 2140L2208 2100Q2200 2080 2210 2053L2175 2030L2135 2007" stroke-width="4.5"/>
<path d="M1962 1962V2030M1975 2060L2120 2150L2140 2130M2120 2150V2210M2140 2080L2150 2110L2200 2090M2120 2040l40 14" stroke-width="4.5"/>
<path d="M1957 2147V2160Q1970 2175 1985 2165V2150M1985 2165V2180Q2000 2195 2018 2185V2165M2018 2185V2200Q2035 2212 2052 2205V2182M2052 2205V2218Q2070 2230 2090 2222V2200M2090 2222Q2110 2235 2133 2225V2213" stroke-width="4.5"/>
<path d="M1990 2037A10 10 0 1 0 1983 2050" stroke-width="5.5"/>
<path d="M1984 2035a6 6 0 1 0 2 10" stroke-width="5"/>
<path d="M2020 2055A10 10 0 1 0 2013 2068" stroke-width="5.5"/>
<path d="M2014 2053a6 6 0 1 0 2 10" stroke-width="5"/>
<path d="M2055 2075A10 10 0 1 0 2048 2088" stroke-width="5.5"/>
<path d="M2049 2073a6 6 0 1 0 2 10" stroke-width="5"/>
<path d="M2090 2095A10 10 0 1 0 2083 2108" stroke-width="5.5"/>
<path d="M2084 2093a6 6 0 1 0 2 10" stroke-width="5"/>
<path d="M1988 2102A10 10 0 1 0 1981 2115" stroke-width="5.5"/>
<path d="M1982 2100a6 6 0 1 0 2 10" stroke-width="5"/>
<path d="M2020 2122A10 10 0 1 0 2013 2135" stroke-width="5.5"/>
<path d="M2014 2120a6 6 0 1 0 2 10" stroke-width="5"/>
<path d="M2055 2142A10 10 0 1 0 2048 2155" stroke-width="5.5"/>
<path d="M2049 2140a6 6 0 1 0 2 10" stroke-width="5"/>
<path d="M2090 2162A10 10 0 1 0 2083 2175" stroke-width="5.5"/>
<path d="M2084 2160a6 6 0 1 0 2 10" stroke-width="5"/>
<path d="M2180 2117A10 10 0 1 0 2173 2130" stroke-width="5.5"/>
<path d="M2174 2115a6 6 0 1 0 2 10" stroke-width="5"/>
<path d="M2010 1987A10 10 0 1 0 2003 2000" stroke-width="5.5"/>
<path d="M2004 1985a6 6 0 1 0 2 10" stroke-width="5"/>
<path d="M2050 2007A10 10 0 1 0 2043 2020" stroke-width="5.5"/>
<path d="M2044 2005a6 6 0 1 0 2 10" stroke-width="5"/>
<path d="M2095 2032A10 10 0 1 0 2088 2045" stroke-width="5.5"/>
<path d="M2089 2030a6 6 0 1 0 2 10" stroke-width="5"/>
<path d="M2130 2047A10 10 0 1 0 2123 2060" stroke-width="5.5"/>
<path d="M2124 2045a6 6 0 1 0 2 10" stroke-width="5"/>
<ellipse cx="1948" cy="2055" rx="7" ry="10" fill="#fff" stroke-width="4"/>
<path d="M2195 2065l8 4M2195 2125l8 4" stroke-width="7"/>
<path d="M2385 10h16" stroke-width="3"/>
<path d="M8 248v8M1002 2v4M88 1866h3M30 2464h5" stroke-width="2.5"/>
<path d="M2503 1014v6M2505 1040v8M2503 1066v6M2505 1090v10M2503 1120v5M2504 1140v6M2528 1550l6 3" stroke-width="3"/>
<path d="M1426 506l5 2M1452 498l2 1" stroke-width="3"/>
</g>
<g fill="#000" stroke="#000" stroke-width="1.3" stroke-linejoin="round" font-family="'Liberation Sans',sans-serif" text-anchor="middle">
<text x="519" y="127" font-size="56" text-anchor="middle">3</text>
<text x="453" y="187" font-size="56" text-anchor="middle">2</text>
<text x="354" y="275" font-size="56" text-anchor="middle">1</text>
<text x="771" y="207" font-size="56" text-anchor="middle">6</text>
<text x="719" y="268" font-size="56" text-anchor="middle">5</text>
<text x="662" y="352" font-size="56" text-anchor="middle">4</text>
<text x="120" y="474" font-size="56" text-anchor="middle">26</text>
<text x="196" y="519" font-size="56" text-anchor="middle">27</text>
<text x="241" y="590" font-size="56" text-anchor="middle">24</text>
<text x="322" y="593" font-size="56" text-anchor="middle">23</text>
<text x="399" y="633" font-size="56" text-anchor="middle">22</text>
<text x="533" y="718" font-size="56" text-anchor="middle">23</text>
<text x="608" y="756" font-size="56" text-anchor="middle">22</text>
<text x="736" y="823" font-size="56" text-anchor="middle">23</text>
<text x="806" y="858" font-size="56" text-anchor="middle">22</text>
<text x="974" y="391" font-size="56" text-anchor="middle">9</text>
<text x="923" y="465" font-size="56" text-anchor="middle">8</text>
<text x="877" y="529" font-size="56" text-anchor="middle">7</text>
<text x="425" y="934" font-size="56" text-anchor="middle">31</text>
<text x="509" y="976" font-size="56" text-anchor="middle">32</text>
<text x="607" y="1047" font-size="56" text-anchor="middle">31</text>
<text x="700" y="1089" font-size="56" text-anchor="middle">32</text>
<text x="827" y="1188" font-size="56" text-anchor="middle">31</text>
<text x="272" y="1194" font-size="56" text-anchor="middle">30</text>
<text x="248" y="1282" font-size="56" text-anchor="middle">28</text>
<text x="481" y="1302" font-size="56" text-anchor="middle">30</text>
<text x="456" y="1408" font-size="56" text-anchor="middle">28</text>
<text x="697" y="1432" font-size="56" text-anchor="middle">30</text>
<text x="667" y="1499" font-size="56" text-anchor="middle">28</text>
<text x="958" y="946" font-size="56" text-anchor="middle">23</text>
<text x="1039" y="984" font-size="56" text-anchor="middle">25</text>
<text x="1127" y="1027" font-size="56" text-anchor="middle">23</text>
<text x="924" y="1226" font-size="56" text-anchor="middle">32</text>
<text x="1419" y="286" font-size="56" text-anchor="middle">1</text>
<text x="1833" y="226" font-size="56" text-anchor="middle">4</text>
<text x="1819" y="446" font-size="56" text-anchor="middle">7</text>
<text x="2083" y="376" font-size="56" text-anchor="middle">10</text>
<text x="2220" y="374" font-size="56" text-anchor="middle">13</text>
<text x="2232" y="679" font-size="56" text-anchor="middle">19</text>
<text x="2408" y="804" font-size="56" text-anchor="middle">16</text>
<text x="1299" y="1156" font-size="56" text-anchor="middle">28</text>
<text x="1234" y="1344" font-size="56" text-anchor="middle">42</text>
<text x="1303" y="1577" font-size="56" text-anchor="middle">29</text>
<text x="2290" y="1408" font-size="56" text-anchor="middle">28</text>
<text x="1797" y="1844" font-size="56" text-anchor="middle">42</text>
<text x="1887" y="1909" font-size="56" text-anchor="middle">47</text>
<text x="2289" y="1944" font-size="56" text-anchor="middle">29</text>
<text x="447" y="1611" font-size="56" text-anchor="middle">15</text>
<text x="390" y="1679" font-size="56" text-anchor="middle">14</text>
<text x="360" y="1738" font-size="56" text-anchor="middle">13</text>
<text x="825" y="1909" font-size="56" text-anchor="middle">12</text>
<text x="765" y="1983" font-size="56" text-anchor="middle">11</text>
<text x="695" y="2056" font-size="56" text-anchor="middle">10</text>
<text x="840" y="2037" font-size="56" text-anchor="middle">19</text>
<text x="988" y="1869" font-size="56" text-anchor="middle">21</text>
<text x="917" y="1944" font-size="56" text-anchor="middle">20</text>
<text x="1340" y="2232" font-size="56" text-anchor="middle">18</text>
<text x="1279" y="2300" font-size="56" text-anchor="middle">17</text>
<text x="1186" y="2410" font-size="56" text-anchor="middle">16</text>
<text x="190" y="2119" font-size="56" text-anchor="middle">23</text>
<text x="376" y="2231" font-size="56" text-anchor="middle">22</text>
<text x="452" y="2263" font-size="56" text-anchor="middle">23</text>
<text x="595" y="2346" font-size="56" text-anchor="middle">22</text>
<text x="660" y="2405" font-size="56" text-anchor="middle">23</text>
<text x="309" y="2455" font-size="56" text-anchor="middle">32</text>
<text x="787" y="2468" font-size="56" text-anchor="middle">22</text>
<text x="349" y="2511" font-size="56" text-anchor="middle">31</text>
<text x="870" y="2514" font-size="56" text-anchor="middle">23</text>
<text x="522" y="2584" font-size="56" text-anchor="middle">32</text>
<text x="552" y="2641" font-size="56" text-anchor="middle">31</text>
<text x="712" y="2692" font-size="56" text-anchor="middle">32</text>
<text x="756" y="2748" font-size="56" text-anchor="middle">31</text>
<text x="356" y="2732" font-size="56" text-anchor="middle">30</text>
<text x="356" y="2836" font-size="56" text-anchor="middle">28</text>
<text x="554" y="2898" font-size="56" text-anchor="middle">30</text>
<text x="584" y="2967" font-size="56" text-anchor="middle">28</text>
<text x="725" y="2971" font-size="56" text-anchor="middle">30</text>
<text x="752" y="3054" font-size="56" text-anchor="middle">28</text>
<text x="1012" y="2596" font-size="56" text-anchor="middle">22</text>
<text x="1098" y="2652" font-size="56" text-anchor="middle">23</text>
<text x="1191" y="2706" font-size="56" text-anchor="middle">24</text>
<text x="1268" y="2754" font-size="56" text-anchor="middle">27</text>
<text x="1350" y="2802" font-size="56" text-anchor="middle">26</text>
<text x="939" y="2829" font-size="56" text-anchor="middle">32</text>
<text x="1047" y="2889" font-size="56" text-anchor="middle">31</text>
<text x="999" y="3101" font-size="56" text-anchor="middle">30</text>
<text x="998" y="3206" font-size="56" text-anchor="middle">28</text>
<text x="1568" y="2306" font-size="56" text-anchor="middle">48</text>
<text x="1569" y="2396" font-size="56" text-anchor="middle">49</text>
<text x="1570" y="2466" font-size="56" text-anchor="middle">50</text>
<text x="1481" y="2662" font-size="56" text-anchor="middle">43</text>
<text x="1553" y="2741" font-size="56" text-anchor="middle">42</text>
<text x="1478" y="2817" font-size="56" text-anchor="middle">46</text>
<text x="1606" y="2987" font-size="56" text-anchor="middle">47</text>
<text x="1907" y="2396" font-size="56" text-anchor="middle">45</text>
<text x="2089" y="2419" font-size="56" text-anchor="middle">32</text>
<text x="2020" y="2465" font-size="56" text-anchor="middle">44</text>
<text x="2185" y="2461" font-size="56" text-anchor="middle">37</text>
<text x="2413" y="2460" font-size="56" text-anchor="middle">28</text>
<text x="2408" y="2581" font-size="56" text-anchor="middle">35</text>
<text x="2414" y="2674" font-size="56" text-anchor="middle">33</text>
<text x="2003" y="2804" font-size="56" text-anchor="middle">44</text>
<text x="2098" y="2842" font-size="56" text-anchor="middle">34</text>
<text x="2094" y="2917" font-size="56" text-anchor="middle">35</text>
<text x="2397" y="2946" font-size="56" text-anchor="middle">36</text>
<text x="2093" y="2997" font-size="56" text-anchor="middle">29</text>
<text x="2097" y="3068" font-size="56" text-anchor="middle">41</text>
<text x="2393" y="3073" font-size="56" text-anchor="middle">39</text>
<text x="2093" y="3149" font-size="56" text-anchor="middle">40</text>
<text x="2092" y="3227" font-size="56" text-anchor="middle">38</text>
<text x="1347" y="688.6" font-size="80" text-anchor="middle">A</text>
<text x="2370" y="1045.6" font-size="80" text-anchor="middle">B</text>
<text x="2300" y="1736.6" font-size="80" text-anchor="middle">C</text>
<text text-anchor="start" x="204" y="1480" font-size="37" font-weight="bold" stroke="none" font-family="'Liberation Sans','Noto Sans CJK JP',sans-serif">A<tspan x="262" font-size="25" dy="-2">詳</tspan><tspan x="321" font-size="25">細</tspan></text>
<text text-anchor="start" x="204" y="1524" font-size="37" font-weight="bold" stroke="none" textLength="150">Detail A</text>
<text text-anchor="start" x="522" y="3208" font-size="37" font-weight="bold" stroke="none" font-family="'Liberation Sans','Noto Sans CJK JP',sans-serif">B<tspan x="580" font-size="25" dy="-2">詳</tspan><tspan x="639" font-size="25">細</tspan></text>
<text text-anchor="start" x="522" y="3249" font-size="37" font-weight="bold" stroke="none" textLength="148">Detail B</text>
<text text-anchor="start" x="1802" y="3140" font-size="37" font-weight="bold" stroke="none" font-family="'Liberation Sans','Noto Sans CJK JP',sans-serif">C<tspan x="1860" font-size="25" dy="-2">詳</tspan><tspan x="1919" font-size="25">細</tspan></text>
<text text-anchor="start" x="1802" y="3178" font-size="37" font-weight="bold" stroke="none" textLength="146">Detail C</text>
<text text-anchor="start" x="1097" y="1697" font-size="29" font-weight="bold" stroke-width="0.5" textLength="280" font-family="'Liberation Sans','Noto Sans CJK JP',sans-serif">コントロールバルブ</text>
<text text-anchor="start" x="1124" y="1757" font-size="37" font-weight="bold" stroke="none" textLength="228">Control Valve</text>
<text text-anchor="start" x="1467" y="2014" font-size="29" font-weight="bold" stroke-width="0.5" textLength="283" font-family="'Liberation Sans','Noto Sans CJK JP',sans-serif">コンソールボックス</text>
<text text-anchor="start" x="1504" y="2060" font-size="37" font-weight="bold" stroke="none" textLength="216">Console Box</text>
<text text-anchor="start" x="2208" y="2181" font-size="29" font-weight="bold" stroke-width="0.5" textLength="282" font-family="'Liberation Sans','Noto Sans CJK JP',sans-serif">コントロールバルブ</text>
<text text-anchor="start" x="2237" y="2227" font-size="37" font-weight="bold" stroke="none" textLength="227">Control Valve</text>
</g>
<g opacity="0.368" fill="#a3a1a6" stroke="#a3a1a6" font-family="'Liberation Sans',sans-serif"><title>ÖRNEK ORNEK www.ornekismakinalari.com.tr</title><text stroke-linejoin="miter" stroke-miterlimit="1.6"><tspan x="107.0" y="1740" font-size="414.5" stroke-width="34" textLength="446.7" lengthAdjust="spacingAndGlyphs">O</tspan><tspan x="575.0" y="1743" font-size="423.3" stroke-width="28" textLength="450.5" lengthAdjust="spacingAndGlyphs">R</tspan><tspan x="1033.0" y="1744" font-size="426.2" stroke-width="26" textLength="512.3" lengthAdjust="spacingAndGlyphs">N</tspan><tspan x="1547.0" y="1741" font-size="417.5" stroke-width="32" textLength="383.5" lengthAdjust="spacingAndGlyphs">E</tspan><tspan x="1960.0" y="1742" font-size="420.4" stroke-width="30" textLength="449.4" lengthAdjust="spacingAndGlyphs">K</tspan></text><text y="1866" font-size="112" font-weight="bold" stroke-width="9" stroke-linejoin="round" text-anchor="middle"><tspan x="181.5" textLength="111.1" lengthAdjust="spacingAndGlyphs">w</tspan><tspan x="308.5" textLength="111.1" lengthAdjust="spacingAndGlyphs">w</tspan><tspan x="437.0" textLength="114.2" lengthAdjust="spacingAndGlyphs">w</tspan><tspan x="521.5" textLength="31.2" lengthAdjust="spacingAndGlyphs">.</tspan><tspan x="587.0" textLength="63.2" lengthAdjust="spacingAndGlyphs">o</tspan><tspan x="665.5" textLength="47.3" lengthAdjust="spacingAndGlyphs">r</tspan><tspan x="752.0" textLength="88.3" lengthAdjust="spacingAndGlyphs">n</tspan><tspan x="844.0" textLength="69.5" lengthAdjust="spacingAndGlyphs">e</tspan><tspan x="930.5" textLength="68.6" lengthAdjust="spacingAndGlyphs">k</tspan><tspan x="1005.0" textLength="30.2" lengthAdjust="spacingAndGlyphs">i</tspan><tspan x="1065.0" textLength="56.9" lengthAdjust="spacingAndGlyphs">s</tspan><tspan x="1167.0" textLength="117.6" lengthAdjust="spacingAndGlyphs">m</tspan><tspan x="1269.0" textLength="58.1" lengthAdjust="spacingAndGlyphs">a</tspan><tspan x="1360.5" textLength="74.9" lengthAdjust="spacingAndGlyphs">k</tspan><tspan x="1431.0" textLength="30.2" lengthAdjust="spacingAndGlyphs">i</tspan><tspan x="1502.0" textLength="86.2" lengthAdjust="spacingAndGlyphs">n</tspan><tspan x="1589.0" textLength="60.2" lengthAdjust="spacingAndGlyphs">a</tspan><tspan x="1664.0" textLength="30.2" lengthAdjust="spacingAndGlyphs">l</tspan><tspan x="1728.0" textLength="62.4" lengthAdjust="spacingAndGlyphs">a</tspan><tspan x="1801.5" textLength="47.3" lengthAdjust="spacingAndGlyphs">r</tspan><tspan x="1863.0" textLength="30.2" lengthAdjust="spacingAndGlyphs">i</tspan><tspan x="1905.0" textLength="30.2" lengthAdjust="spacingAndGlyphs">.</tspan><tspan x="1975.0" textLength="59.2" lengthAdjust="spacingAndGlyphs">c</tspan><tspan x="2053.0" textLength="65.3" lengthAdjust="spacingAndGlyphs">o</tspan><tspan x="2165.0" textLength="119.7" lengthAdjust="spacingAndGlyphs">m</tspan><tspan x="2265.5" textLength="31.2" lengthAdjust="spacingAndGlyphs">.</tspan><tspan x="2337.0" textLength="35.6" lengthAdjust="spacingAndGlyphs">t</tspan><tspan x="2396.5" textLength="45.2" lengthAdjust="spacingAndGlyphs">r</tspan></text></g><path d="M218 1403L315 1347V1403ZM338 1403L436 1347V1403Z" fill="#fbc82d" opacity="0.4"/>
</svg>
</body></html>
